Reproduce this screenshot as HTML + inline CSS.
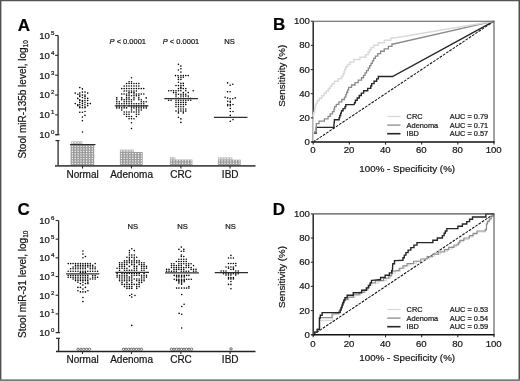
<!DOCTYPE html>
<html><head><meta charset="utf-8"><title>Figure</title>
<style>html,body{margin:0;padding:0;background:#fff;}body{width:520px;height:381px;overflow:hidden;font-family:"Liberation Sans", sans-serif;}svg{display:block;will-change:transform;}</style>
</head><body>
<svg width="520" height="381" viewBox="0 0 520 381" font-family='"Liberation Sans", sans-serif'>
<defs><style>text{stroke:#1a1a1a;stroke-width:0.22px;}</style>
</defs>
<rect width="520" height="381" fill="#fff"/>
<text x="17.80" y="30.60" font-size="17" text-anchor="start" font-weight="bold" font-style="normal" fill="#000" >A</text>
<line x1="58.10" y1="35.50" x2="58.10" y2="134.70" stroke="#2a2a2a" stroke-width="1.3" />
<line x1="55.10" y1="35.50" x2="58.10" y2="35.50" stroke="#2a2a2a" stroke-width="1.1" />
<text x="49.9" y="38.85" font-size="9.6" text-anchor="end" fill="#111">10</text>
<text x="51.1" y="34.90" font-size="6.1" fill="#111">5</text>
<line x1="55.10" y1="55.34" x2="58.10" y2="55.34" stroke="#2a2a2a" stroke-width="1.1" />
<text x="49.9" y="58.69" font-size="9.6" text-anchor="end" fill="#111">10</text>
<text x="51.1" y="54.74" font-size="6.1" fill="#111">4</text>
<line x1="55.10" y1="75.18" x2="58.10" y2="75.18" stroke="#2a2a2a" stroke-width="1.1" />
<text x="49.9" y="78.53" font-size="9.6" text-anchor="end" fill="#111">10</text>
<text x="51.1" y="74.58" font-size="6.1" fill="#111">3</text>
<line x1="55.10" y1="95.02" x2="58.10" y2="95.02" stroke="#2a2a2a" stroke-width="1.1" />
<text x="49.9" y="98.37" font-size="9.6" text-anchor="end" fill="#111">10</text>
<text x="51.1" y="94.42" font-size="6.1" fill="#111">2</text>
<line x1="55.10" y1="114.86" x2="58.10" y2="114.86" stroke="#2a2a2a" stroke-width="1.1" />
<text x="49.9" y="118.21" font-size="9.6" text-anchor="end" fill="#111">10</text>
<text x="51.1" y="114.26" font-size="6.1" fill="#111">1</text>
<line x1="55.10" y1="134.70" x2="58.10" y2="134.70" stroke="#2a2a2a" stroke-width="1.1" />
<text x="49.9" y="138.05" font-size="9.6" text-anchor="end" fill="#111">10</text>
<text x="51.1" y="134.10" font-size="6.1" fill="#111">0</text>
<line x1="55.50" y1="134.70" x2="59.50" y2="134.70" stroke="#2a2a2a" stroke-width="1.2" />
<line x1="55.50" y1="140.60" x2="59.50" y2="140.60" stroke="#2a2a2a" stroke-width="1.2" />
<line x1="58.10" y1="140.60" x2="58.10" y2="165.90" stroke="#2a2a2a" stroke-width="1.3" />
<line x1="55.00" y1="165.90" x2="255.50" y2="165.90" stroke="#4a4a4a" stroke-width="1.6" />
<line x1="82.50" y1="165.90" x2="82.50" y2="168.50" stroke="#2a2a2a" stroke-width="1.1" />
<text x="82.60" y="177.90" font-size="10" text-anchor="middle" font-weight="normal" font-style="normal" fill="#151515" >Normal</text>
<line x1="131.50" y1="165.90" x2="131.50" y2="168.50" stroke="#2a2a2a" stroke-width="1.1" />
<text x="131.60" y="177.90" font-size="10" text-anchor="middle" font-weight="normal" font-style="normal" fill="#151515" >Adenoma</text>
<line x1="180.90" y1="165.90" x2="180.90" y2="168.50" stroke="#2a2a2a" stroke-width="1.1" />
<text x="181.00" y="177.90" font-size="10" text-anchor="middle" font-weight="normal" font-style="normal" fill="#151515" >CRC</text>
<line x1="230.10" y1="165.90" x2="230.10" y2="168.50" stroke="#2a2a2a" stroke-width="1.1" />
<text x="230.20" y="177.90" font-size="10" text-anchor="middle" font-weight="normal" font-style="normal" fill="#151515" >IBD</text>
<text transform="translate(25.6,158.6) rotate(-90)" font-size="10" fill="#151515">Stool miR-135b level, log<tspan font-size="6.6" dy="2">10</tspan></text>
<text x="127.80" y="43.80" font-size="7.5" text-anchor="middle" font-weight="normal" font-style="normal" fill="#1a1a1a" ><tspan font-style="italic">P</tspan> &lt; 0.0001</text>
<text x="181.00" y="43.80" font-size="7.5" text-anchor="middle" font-weight="normal" font-style="normal" fill="#1a1a1a" ><tspan font-style="italic">P</tspan> &lt; 0.0001</text>
<text x="229.60" y="44.30" font-size="7.6" text-anchor="middle" font-weight="normal" font-style="normal" fill="#1a1a1a" >NS</text>
<text x="17.50" y="214.60" font-size="17" text-anchor="start" font-weight="bold" font-style="normal" fill="#000" >C</text>
<line x1="58.60" y1="220.50" x2="58.60" y2="332.58" stroke="#2a2a2a" stroke-width="1.3" />
<line x1="55.60" y1="220.50" x2="58.60" y2="220.50" stroke="#2a2a2a" stroke-width="1.1" />
<text x="49.9" y="223.85" font-size="9.6" text-anchor="end" fill="#111">10</text>
<text x="51.1" y="219.90" font-size="6.1" fill="#111">6</text>
<line x1="55.60" y1="239.18" x2="58.60" y2="239.18" stroke="#2a2a2a" stroke-width="1.1" />
<text x="49.9" y="242.53" font-size="9.6" text-anchor="end" fill="#111">10</text>
<text x="51.1" y="238.58" font-size="6.1" fill="#111">5</text>
<line x1="55.60" y1="257.86" x2="58.60" y2="257.86" stroke="#2a2a2a" stroke-width="1.1" />
<text x="49.9" y="261.21" font-size="9.6" text-anchor="end" fill="#111">10</text>
<text x="51.1" y="257.26" font-size="6.1" fill="#111">4</text>
<line x1="55.60" y1="276.54" x2="58.60" y2="276.54" stroke="#2a2a2a" stroke-width="1.1" />
<text x="49.9" y="279.89" font-size="9.6" text-anchor="end" fill="#111">10</text>
<text x="51.1" y="275.94" font-size="6.1" fill="#111">3</text>
<line x1="55.60" y1="295.22" x2="58.60" y2="295.22" stroke="#2a2a2a" stroke-width="1.1" />
<text x="49.9" y="298.57" font-size="9.6" text-anchor="end" fill="#111">10</text>
<text x="51.1" y="294.62" font-size="6.1" fill="#111">2</text>
<line x1="55.60" y1="313.90" x2="58.60" y2="313.90" stroke="#2a2a2a" stroke-width="1.1" />
<text x="49.9" y="317.25" font-size="9.6" text-anchor="end" fill="#111">10</text>
<text x="51.1" y="313.30" font-size="6.1" fill="#111">1</text>
<line x1="55.60" y1="332.58" x2="58.60" y2="332.58" stroke="#2a2a2a" stroke-width="1.1" />
<text x="49.9" y="335.93" font-size="9.6" text-anchor="end" fill="#111">10</text>
<text x="51.1" y="331.98" font-size="6.1" fill="#111">0</text>
<line x1="56.00" y1="332.58" x2="60.00" y2="332.58" stroke="#2a2a2a" stroke-width="1.2" />
<line x1="56.00" y1="338.30" x2="60.00" y2="338.30" stroke="#2a2a2a" stroke-width="1.2" />
<line x1="58.60" y1="338.30" x2="58.60" y2="351.50" stroke="#2a2a2a" stroke-width="1.3" />
<line x1="56.00" y1="351.50" x2="255.50" y2="351.50" stroke="#222" stroke-width="1.3" />
<line x1="82.50" y1="351.50" x2="82.50" y2="354.10" stroke="#2a2a2a" stroke-width="1.1" />
<text x="82.60" y="363.40" font-size="10" text-anchor="middle" font-weight="normal" font-style="normal" fill="#151515" >Normal</text>
<line x1="131.50" y1="351.50" x2="131.50" y2="354.10" stroke="#2a2a2a" stroke-width="1.1" />
<text x="131.60" y="363.40" font-size="10" text-anchor="middle" font-weight="normal" font-style="normal" fill="#151515" >Adenoma</text>
<line x1="180.90" y1="351.50" x2="180.90" y2="354.10" stroke="#2a2a2a" stroke-width="1.1" />
<text x="181.00" y="363.40" font-size="10" text-anchor="middle" font-weight="normal" font-style="normal" fill="#151515" >CRC</text>
<line x1="230.10" y1="351.50" x2="230.10" y2="354.10" stroke="#2a2a2a" stroke-width="1.1" />
<text x="230.20" y="363.40" font-size="10" text-anchor="middle" font-weight="normal" font-style="normal" fill="#151515" >IBD</text>
<text transform="translate(25.6,337.9) rotate(-90)" font-size="10" fill="#151515">Stool miR-31 level, log<tspan font-size="6.6" dy="2">10</tspan></text>
<text x="132.90" y="229.40" font-size="7.6" text-anchor="middle" font-weight="normal" font-style="normal" fill="#1a1a1a" >NS</text>
<text x="182.50" y="229.40" font-size="7.6" text-anchor="middle" font-weight="normal" font-style="normal" fill="#1a1a1a" >NS</text>
<text x="230.50" y="229.40" font-size="7.6" text-anchor="middle" font-weight="normal" font-style="normal" fill="#1a1a1a" >NS</text>
<circle cx="79.80" cy="87.60" r="0.78" fill="#000"/>
<circle cx="82.40" cy="88.90" r="0.78" fill="#000"/>
<circle cx="82.40" cy="92.10" r="0.78" fill="#000"/>
<circle cx="85.00" cy="92.10" r="0.78" fill="#000"/>
<circle cx="75.20" cy="93.10" r="0.78" fill="#000"/>
<circle cx="79.80" cy="93.10" r="0.78" fill="#000"/>
<circle cx="87.70" cy="93.10" r="0.78" fill="#000"/>
<circle cx="77.80" cy="94.20" r="0.78" fill="#000"/>
<circle cx="79.80" cy="95.10" r="0.78" fill="#000"/>
<circle cx="82.40" cy="95.10" r="0.78" fill="#000"/>
<circle cx="85.00" cy="95.10" r="0.78" fill="#000"/>
<circle cx="79.80" cy="96.40" r="0.78" fill="#000"/>
<circle cx="85.00" cy="96.40" r="0.78" fill="#000"/>
<circle cx="82.40" cy="97.50" r="0.78" fill="#000"/>
<circle cx="77.80" cy="98.40" r="0.78" fill="#000"/>
<circle cx="85.00" cy="98.40" r="0.78" fill="#000"/>
<circle cx="87.70" cy="98.40" r="0.78" fill="#000"/>
<circle cx="79.80" cy="99.70" r="0.78" fill="#000"/>
<circle cx="79.80" cy="100.60" r="0.78" fill="#000"/>
<circle cx="82.40" cy="100.60" r="0.78" fill="#000"/>
<circle cx="85.00" cy="100.60" r="0.78" fill="#000"/>
<circle cx="87.70" cy="100.60" r="0.78" fill="#000"/>
<circle cx="82.40" cy="101.70" r="0.78" fill="#000"/>
<circle cx="79.80" cy="102.60" r="0.78" fill="#000"/>
<circle cx="85.00" cy="102.60" r="0.78" fill="#000"/>
<circle cx="75.20" cy="103.60" r="0.78" fill="#000"/>
<circle cx="82.40" cy="103.60" r="0.78" fill="#000"/>
<circle cx="87.70" cy="103.60" r="0.78" fill="#000"/>
<circle cx="90.30" cy="103.60" r="0.78" fill="#000"/>
<circle cx="77.80" cy="104.70" r="0.78" fill="#000"/>
<circle cx="79.80" cy="104.70" r="0.78" fill="#000"/>
<circle cx="85.00" cy="104.70" r="0.78" fill="#000"/>
<circle cx="77.80" cy="105.60" r="0.78" fill="#000"/>
<circle cx="82.40" cy="105.60" r="0.78" fill="#000"/>
<circle cx="87.70" cy="105.60" r="0.78" fill="#000"/>
<circle cx="79.80" cy="106.90" r="0.78" fill="#000"/>
<circle cx="85.00" cy="106.90" r="0.78" fill="#000"/>
<circle cx="79.80" cy="107.80" r="0.78" fill="#000"/>
<circle cx="82.40" cy="107.80" r="0.78" fill="#000"/>
<circle cx="85.00" cy="107.80" r="0.78" fill="#000"/>
<circle cx="85.00" cy="111.50" r="0.78" fill="#000"/>
<circle cx="79.80" cy="112.20" r="0.78" fill="#000"/>
<circle cx="82.40" cy="112.20" r="0.78" fill="#000"/>
<circle cx="85.00" cy="115.40" r="0.78" fill="#000"/>
<circle cx="82.40" cy="117.00" r="0.78" fill="#000"/>
<circle cx="82.40" cy="120.70" r="0.78" fill="#000"/>
<circle cx="82.50" cy="132.00" r="0.78" fill="#000"/>
<circle cx="131.50" cy="77.80" r="0.78" fill="#000"/>
<circle cx="129.05" cy="81.80" r="0.78" fill="#000"/>
<circle cx="131.50" cy="81.80" r="0.78" fill="#000"/>
<circle cx="126.60" cy="83.50" r="0.78" fill="#000"/>
<circle cx="129.05" cy="83.50" r="0.78" fill="#000"/>
<circle cx="131.50" cy="83.50" r="0.78" fill="#000"/>
<circle cx="133.95" cy="83.50" r="0.78" fill="#000"/>
<circle cx="136.40" cy="83.50" r="0.78" fill="#000"/>
<circle cx="138.85" cy="83.50" r="0.78" fill="#000"/>
<circle cx="124.15" cy="86.00" r="0.78" fill="#000"/>
<circle cx="126.60" cy="86.00" r="0.78" fill="#000"/>
<circle cx="129.05" cy="86.00" r="0.78" fill="#000"/>
<circle cx="131.50" cy="86.00" r="0.78" fill="#000"/>
<circle cx="133.95" cy="86.00" r="0.78" fill="#000"/>
<circle cx="136.40" cy="86.00" r="0.78" fill="#000"/>
<circle cx="138.85" cy="86.00" r="0.78" fill="#000"/>
<circle cx="121.70" cy="88.60" r="0.78" fill="#000"/>
<circle cx="124.15" cy="88.60" r="0.78" fill="#000"/>
<circle cx="126.60" cy="88.60" r="0.78" fill="#000"/>
<circle cx="129.05" cy="88.60" r="0.78" fill="#000"/>
<circle cx="131.50" cy="88.60" r="0.78" fill="#000"/>
<circle cx="133.95" cy="88.60" r="0.78" fill="#000"/>
<circle cx="136.40" cy="88.60" r="0.78" fill="#000"/>
<circle cx="138.85" cy="88.60" r="0.78" fill="#000"/>
<circle cx="141.30" cy="88.60" r="0.78" fill="#000"/>
<circle cx="143.75" cy="88.60" r="0.78" fill="#000"/>
<circle cx="124.15" cy="91.00" r="0.78" fill="#000"/>
<circle cx="126.60" cy="91.00" r="0.78" fill="#000"/>
<circle cx="129.05" cy="91.00" r="0.78" fill="#000"/>
<circle cx="131.50" cy="91.00" r="0.78" fill="#000"/>
<circle cx="133.95" cy="91.00" r="0.78" fill="#000"/>
<circle cx="136.40" cy="91.00" r="0.78" fill="#000"/>
<circle cx="129.05" cy="92.60" r="0.78" fill="#000"/>
<circle cx="131.50" cy="92.60" r="0.78" fill="#000"/>
<circle cx="133.95" cy="92.60" r="0.78" fill="#000"/>
<circle cx="121.70" cy="94.00" r="0.78" fill="#000"/>
<circle cx="124.10" cy="94.00" r="0.78" fill="#000"/>
<circle cx="126.60" cy="94.00" r="0.78" fill="#000"/>
<circle cx="129.05" cy="94.00" r="0.78" fill="#000"/>
<circle cx="134.00" cy="94.00" r="0.78" fill="#000"/>
<circle cx="136.40" cy="94.00" r="0.78" fill="#000"/>
<circle cx="138.90" cy="94.00" r="0.78" fill="#000"/>
<circle cx="141.30" cy="94.00" r="0.78" fill="#000"/>
<circle cx="143.80" cy="94.00" r="0.78" fill="#000"/>
<circle cx="126.60" cy="95.80" r="0.78" fill="#000"/>
<circle cx="129.05" cy="95.80" r="0.78" fill="#000"/>
<circle cx="131.50" cy="95.80" r="0.78" fill="#000"/>
<circle cx="133.95" cy="95.80" r="0.78" fill="#000"/>
<circle cx="136.40" cy="95.80" r="0.78" fill="#000"/>
<circle cx="138.85" cy="95.80" r="0.78" fill="#000"/>
<circle cx="116.80" cy="97.90" r="0.78" fill="#000"/>
<circle cx="121.70" cy="97.90" r="0.78" fill="#000"/>
<circle cx="126.60" cy="97.90" r="0.78" fill="#000"/>
<circle cx="129.05" cy="97.90" r="0.78" fill="#000"/>
<circle cx="133.95" cy="97.90" r="0.78" fill="#000"/>
<circle cx="138.85" cy="97.90" r="0.78" fill="#000"/>
<circle cx="146.20" cy="97.90" r="0.78" fill="#000"/>
<circle cx="116.80" cy="99.80" r="0.78" fill="#000"/>
<circle cx="121.70" cy="99.80" r="0.78" fill="#000"/>
<circle cx="124.15" cy="99.80" r="0.78" fill="#000"/>
<circle cx="126.60" cy="99.80" r="0.78" fill="#000"/>
<circle cx="129.05" cy="99.80" r="0.78" fill="#000"/>
<circle cx="131.50" cy="99.80" r="0.78" fill="#000"/>
<circle cx="133.95" cy="99.80" r="0.78" fill="#000"/>
<circle cx="138.85" cy="99.80" r="0.78" fill="#000"/>
<circle cx="141.30" cy="99.80" r="0.78" fill="#000"/>
<circle cx="116.80" cy="101.80" r="0.78" fill="#000"/>
<circle cx="119.25" cy="101.80" r="0.78" fill="#000"/>
<circle cx="124.15" cy="101.80" r="0.78" fill="#000"/>
<circle cx="126.60" cy="101.80" r="0.78" fill="#000"/>
<circle cx="129.05" cy="101.80" r="0.78" fill="#000"/>
<circle cx="131.50" cy="101.80" r="0.78" fill="#000"/>
<circle cx="141.30" cy="101.80" r="0.78" fill="#000"/>
<circle cx="143.75" cy="101.80" r="0.78" fill="#000"/>
<circle cx="146.20" cy="101.80" r="0.78" fill="#000"/>
<circle cx="116.80" cy="103.80" r="0.78" fill="#000"/>
<circle cx="119.25" cy="103.80" r="0.78" fill="#000"/>
<circle cx="121.70" cy="103.80" r="0.78" fill="#000"/>
<circle cx="124.15" cy="103.80" r="0.78" fill="#000"/>
<circle cx="126.60" cy="103.80" r="0.78" fill="#000"/>
<circle cx="129.05" cy="103.80" r="0.78" fill="#000"/>
<circle cx="131.50" cy="103.80" r="0.78" fill="#000"/>
<circle cx="133.95" cy="103.80" r="0.78" fill="#000"/>
<circle cx="136.40" cy="103.80" r="0.78" fill="#000"/>
<circle cx="138.85" cy="103.80" r="0.78" fill="#000"/>
<circle cx="141.30" cy="103.80" r="0.78" fill="#000"/>
<circle cx="143.75" cy="103.80" r="0.78" fill="#000"/>
<circle cx="116.80" cy="105.90" r="0.78" fill="#000"/>
<circle cx="119.25" cy="105.90" r="0.78" fill="#000"/>
<circle cx="124.15" cy="105.90" r="0.78" fill="#000"/>
<circle cx="129.05" cy="105.90" r="0.78" fill="#000"/>
<circle cx="131.50" cy="105.90" r="0.78" fill="#000"/>
<circle cx="133.95" cy="105.90" r="0.78" fill="#000"/>
<circle cx="136.40" cy="105.90" r="0.78" fill="#000"/>
<circle cx="138.85" cy="105.90" r="0.78" fill="#000"/>
<circle cx="141.30" cy="105.90" r="0.78" fill="#000"/>
<circle cx="143.75" cy="105.90" r="0.78" fill="#000"/>
<circle cx="146.20" cy="105.90" r="0.78" fill="#000"/>
<circle cx="116.80" cy="107.90" r="0.78" fill="#000"/>
<circle cx="119.25" cy="107.90" r="0.78" fill="#000"/>
<circle cx="121.70" cy="107.90" r="0.78" fill="#000"/>
<circle cx="124.15" cy="107.90" r="0.78" fill="#000"/>
<circle cx="126.60" cy="107.90" r="0.78" fill="#000"/>
<circle cx="131.50" cy="107.90" r="0.78" fill="#000"/>
<circle cx="133.95" cy="107.90" r="0.78" fill="#000"/>
<circle cx="136.40" cy="107.90" r="0.78" fill="#000"/>
<circle cx="138.85" cy="107.90" r="0.78" fill="#000"/>
<circle cx="141.30" cy="107.90" r="0.78" fill="#000"/>
<circle cx="143.75" cy="107.90" r="0.78" fill="#000"/>
<circle cx="146.20" cy="107.90" r="0.78" fill="#000"/>
<circle cx="121.70" cy="110.00" r="0.78" fill="#000"/>
<circle cx="131.50" cy="110.00" r="0.78" fill="#000"/>
<circle cx="136.40" cy="110.00" r="0.78" fill="#000"/>
<circle cx="138.85" cy="110.00" r="0.78" fill="#000"/>
<circle cx="141.30" cy="110.00" r="0.78" fill="#000"/>
<circle cx="124.15" cy="112.00" r="0.78" fill="#000"/>
<circle cx="126.60" cy="112.00" r="0.78" fill="#000"/>
<circle cx="129.05" cy="112.00" r="0.78" fill="#000"/>
<circle cx="131.50" cy="112.00" r="0.78" fill="#000"/>
<circle cx="133.95" cy="112.00" r="0.78" fill="#000"/>
<circle cx="136.40" cy="112.00" r="0.78" fill="#000"/>
<circle cx="138.85" cy="112.00" r="0.78" fill="#000"/>
<circle cx="124.15" cy="114.20" r="0.78" fill="#000"/>
<circle cx="126.60" cy="114.20" r="0.78" fill="#000"/>
<circle cx="129.05" cy="114.20" r="0.78" fill="#000"/>
<circle cx="136.40" cy="114.20" r="0.78" fill="#000"/>
<circle cx="138.85" cy="114.20" r="0.78" fill="#000"/>
<circle cx="126.60" cy="116.50" r="0.78" fill="#000"/>
<circle cx="129.05" cy="116.50" r="0.78" fill="#000"/>
<circle cx="131.50" cy="116.50" r="0.78" fill="#000"/>
<circle cx="136.40" cy="116.50" r="0.78" fill="#000"/>
<circle cx="129.05" cy="118.80" r="0.78" fill="#000"/>
<circle cx="131.50" cy="118.80" r="0.78" fill="#000"/>
<circle cx="133.95" cy="118.80" r="0.78" fill="#000"/>
<circle cx="131.50" cy="122.70" r="0.78" fill="#000"/>
<circle cx="131.50" cy="128.50" r="0.78" fill="#000"/>
<circle cx="178.40" cy="64.30" r="0.78" fill="#000"/>
<circle cx="180.90" cy="66.10" r="0.78" fill="#000"/>
<circle cx="180.90" cy="68.70" r="0.78" fill="#000"/>
<circle cx="178.40" cy="70.00" r="0.78" fill="#000"/>
<circle cx="180.90" cy="72.10" r="0.78" fill="#000"/>
<circle cx="175.50" cy="75.60" r="0.78" fill="#000"/>
<circle cx="178.00" cy="75.60" r="0.78" fill="#000"/>
<circle cx="180.90" cy="75.60" r="0.78" fill="#000"/>
<circle cx="183.30" cy="75.60" r="0.78" fill="#000"/>
<circle cx="185.80" cy="75.60" r="0.78" fill="#000"/>
<circle cx="188.20" cy="75.60" r="0.78" fill="#000"/>
<circle cx="178.40" cy="77.30" r="0.78" fill="#000"/>
<circle cx="180.90" cy="77.30" r="0.78" fill="#000"/>
<circle cx="183.30" cy="77.30" r="0.78" fill="#000"/>
<circle cx="178.40" cy="79.40" r="0.78" fill="#000"/>
<circle cx="180.90" cy="79.40" r="0.78" fill="#000"/>
<circle cx="178.40" cy="82.20" r="0.78" fill="#000"/>
<circle cx="180.90" cy="83.40" r="0.78" fill="#000"/>
<circle cx="183.30" cy="83.40" r="0.78" fill="#000"/>
<circle cx="176.00" cy="85.60" r="0.78" fill="#000"/>
<circle cx="178.45" cy="85.60" r="0.78" fill="#000"/>
<circle cx="180.90" cy="85.60" r="0.78" fill="#000"/>
<circle cx="183.35" cy="85.60" r="0.78" fill="#000"/>
<circle cx="180.90" cy="87.40" r="0.78" fill="#000"/>
<circle cx="178.40" cy="88.60" r="0.78" fill="#000"/>
<circle cx="180.90" cy="88.60" r="0.78" fill="#000"/>
<circle cx="183.30" cy="88.60" r="0.78" fill="#000"/>
<circle cx="185.80" cy="88.60" r="0.78" fill="#000"/>
<circle cx="168.65" cy="90.80" r="0.78" fill="#000"/>
<circle cx="171.10" cy="90.80" r="0.78" fill="#000"/>
<circle cx="173.55" cy="90.80" r="0.78" fill="#000"/>
<circle cx="176.00" cy="90.80" r="0.78" fill="#000"/>
<circle cx="178.45" cy="90.80" r="0.78" fill="#000"/>
<circle cx="180.90" cy="90.80" r="0.78" fill="#000"/>
<circle cx="185.80" cy="90.80" r="0.78" fill="#000"/>
<circle cx="193.15" cy="90.80" r="0.78" fill="#000"/>
<circle cx="173.55" cy="92.60" r="0.78" fill="#000"/>
<circle cx="176.00" cy="92.60" r="0.78" fill="#000"/>
<circle cx="183.35" cy="92.60" r="0.78" fill="#000"/>
<circle cx="188.25" cy="92.60" r="0.78" fill="#000"/>
<circle cx="176.00" cy="94.30" r="0.78" fill="#000"/>
<circle cx="178.45" cy="94.30" r="0.78" fill="#000"/>
<circle cx="180.90" cy="94.30" r="0.78" fill="#000"/>
<circle cx="183.35" cy="94.30" r="0.78" fill="#000"/>
<circle cx="185.80" cy="94.30" r="0.78" fill="#000"/>
<circle cx="176.00" cy="96.10" r="0.78" fill="#000"/>
<circle cx="180.90" cy="96.10" r="0.78" fill="#000"/>
<circle cx="183.35" cy="96.10" r="0.78" fill="#000"/>
<circle cx="185.80" cy="96.10" r="0.78" fill="#000"/>
<circle cx="188.25" cy="96.10" r="0.78" fill="#000"/>
<circle cx="176.00" cy="98.20" r="0.78" fill="#000"/>
<circle cx="178.45" cy="98.20" r="0.78" fill="#000"/>
<circle cx="180.90" cy="98.20" r="0.78" fill="#000"/>
<circle cx="183.35" cy="98.20" r="0.78" fill="#000"/>
<circle cx="188.25" cy="98.20" r="0.78" fill="#000"/>
<circle cx="190.70" cy="98.20" r="0.78" fill="#000"/>
<circle cx="168.65" cy="100.20" r="0.78" fill="#000"/>
<circle cx="171.10" cy="100.20" r="0.78" fill="#000"/>
<circle cx="176.00" cy="100.20" r="0.78" fill="#000"/>
<circle cx="178.45" cy="100.20" r="0.78" fill="#000"/>
<circle cx="180.90" cy="100.20" r="0.78" fill="#000"/>
<circle cx="183.35" cy="100.20" r="0.78" fill="#000"/>
<circle cx="185.80" cy="100.20" r="0.78" fill="#000"/>
<circle cx="188.25" cy="100.20" r="0.78" fill="#000"/>
<circle cx="190.70" cy="100.20" r="0.78" fill="#000"/>
<circle cx="176.00" cy="102.40" r="0.78" fill="#000"/>
<circle cx="178.45" cy="102.40" r="0.78" fill="#000"/>
<circle cx="180.90" cy="102.40" r="0.78" fill="#000"/>
<circle cx="183.35" cy="102.40" r="0.78" fill="#000"/>
<circle cx="185.80" cy="102.40" r="0.78" fill="#000"/>
<circle cx="176.00" cy="104.60" r="0.78" fill="#000"/>
<circle cx="178.45" cy="104.60" r="0.78" fill="#000"/>
<circle cx="180.90" cy="104.60" r="0.78" fill="#000"/>
<circle cx="183.35" cy="104.60" r="0.78" fill="#000"/>
<circle cx="185.80" cy="104.60" r="0.78" fill="#000"/>
<circle cx="176.00" cy="106.80" r="0.78" fill="#000"/>
<circle cx="178.45" cy="106.80" r="0.78" fill="#000"/>
<circle cx="180.90" cy="106.80" r="0.78" fill="#000"/>
<circle cx="183.35" cy="106.80" r="0.78" fill="#000"/>
<circle cx="178.45" cy="109.00" r="0.78" fill="#000"/>
<circle cx="180.90" cy="109.00" r="0.78" fill="#000"/>
<circle cx="183.35" cy="109.00" r="0.78" fill="#000"/>
<circle cx="185.80" cy="109.00" r="0.78" fill="#000"/>
<circle cx="176.00" cy="111.10" r="0.78" fill="#000"/>
<circle cx="178.45" cy="111.10" r="0.78" fill="#000"/>
<circle cx="180.90" cy="111.10" r="0.78" fill="#000"/>
<circle cx="183.35" cy="111.10" r="0.78" fill="#000"/>
<circle cx="185.80" cy="111.10" r="0.78" fill="#000"/>
<circle cx="178.40" cy="112.90" r="0.78" fill="#000"/>
<circle cx="183.30" cy="112.90" r="0.78" fill="#000"/>
<circle cx="178.40" cy="117.20" r="0.78" fill="#000"/>
<circle cx="180.90" cy="118.90" r="0.78" fill="#000"/>
<circle cx="180.90" cy="122.40" r="0.78" fill="#000"/>
<circle cx="227.60" cy="82.90" r="0.78" fill="#000"/>
<circle cx="232.80" cy="84.20" r="0.78" fill="#000"/>
<circle cx="230.10" cy="85.30" r="0.78" fill="#000"/>
<circle cx="227.60" cy="91.80" r="0.78" fill="#000"/>
<circle cx="230.10" cy="91.80" r="0.78" fill="#000"/>
<circle cx="225.10" cy="97.30" r="0.78" fill="#000"/>
<circle cx="235.20" cy="97.90" r="0.78" fill="#000"/>
<circle cx="227.60" cy="98.10" r="0.78" fill="#000"/>
<circle cx="230.10" cy="98.80" r="0.78" fill="#000"/>
<circle cx="232.80" cy="98.80" r="0.78" fill="#000"/>
<circle cx="227.70" cy="101.20" r="0.78" fill="#000"/>
<circle cx="230.30" cy="101.20" r="0.78" fill="#000"/>
<circle cx="230.30" cy="102.30" r="0.78" fill="#000"/>
<circle cx="227.70" cy="104.50" r="0.78" fill="#000"/>
<circle cx="230.30" cy="104.50" r="0.78" fill="#000"/>
<circle cx="233.00" cy="104.50" r="0.78" fill="#000"/>
<circle cx="227.70" cy="105.80" r="0.78" fill="#000"/>
<circle cx="230.30" cy="105.80" r="0.78" fill="#000"/>
<circle cx="230.30" cy="108.50" r="0.78" fill="#000"/>
<circle cx="230.30" cy="111.50" r="0.78" fill="#000"/>
<circle cx="233.00" cy="111.50" r="0.78" fill="#000"/>
<circle cx="230.30" cy="115.40" r="0.78" fill="#000"/>
<circle cx="233.00" cy="119.60" r="0.78" fill="#000"/>
<circle cx="230.30" cy="121.20" r="0.78" fill="#000"/>
<circle cx="82.90" cy="251.00" r="0.78" fill="#000"/>
<circle cx="82.90" cy="254.00" r="0.78" fill="#000"/>
<circle cx="85.40" cy="256.50" r="0.78" fill="#000"/>
<circle cx="82.90" cy="257.80" r="0.78" fill="#000"/>
<circle cx="68.20" cy="263.60" r="0.78" fill="#000"/>
<circle cx="70.65" cy="263.60" r="0.78" fill="#000"/>
<circle cx="73.10" cy="263.60" r="0.78" fill="#000"/>
<circle cx="75.55" cy="263.60" r="0.78" fill="#000"/>
<circle cx="78.00" cy="263.60" r="0.78" fill="#000"/>
<circle cx="80.45" cy="263.60" r="0.78" fill="#000"/>
<circle cx="82.90" cy="263.60" r="0.78" fill="#000"/>
<circle cx="85.35" cy="263.60" r="0.78" fill="#000"/>
<circle cx="87.80" cy="263.60" r="0.78" fill="#000"/>
<circle cx="90.25" cy="263.60" r="0.78" fill="#000"/>
<circle cx="95.15" cy="263.60" r="0.78" fill="#000"/>
<circle cx="75.55" cy="265.40" r="0.78" fill="#000"/>
<circle cx="78.00" cy="265.40" r="0.78" fill="#000"/>
<circle cx="80.45" cy="265.40" r="0.78" fill="#000"/>
<circle cx="82.90" cy="265.40" r="0.78" fill="#000"/>
<circle cx="85.35" cy="265.40" r="0.78" fill="#000"/>
<circle cx="87.80" cy="265.40" r="0.78" fill="#000"/>
<circle cx="90.25" cy="265.40" r="0.78" fill="#000"/>
<circle cx="92.70" cy="265.40" r="0.78" fill="#000"/>
<circle cx="73.10" cy="267.00" r="0.78" fill="#000"/>
<circle cx="75.55" cy="267.00" r="0.78" fill="#000"/>
<circle cx="78.00" cy="267.00" r="0.78" fill="#000"/>
<circle cx="80.45" cy="267.00" r="0.78" fill="#000"/>
<circle cx="82.90" cy="267.00" r="0.78" fill="#000"/>
<circle cx="85.35" cy="267.00" r="0.78" fill="#000"/>
<circle cx="87.80" cy="267.00" r="0.78" fill="#000"/>
<circle cx="90.25" cy="267.00" r="0.78" fill="#000"/>
<circle cx="92.70" cy="267.00" r="0.78" fill="#000"/>
<circle cx="95.15" cy="267.00" r="0.78" fill="#000"/>
<circle cx="70.65" cy="268.80" r="0.78" fill="#000"/>
<circle cx="73.10" cy="268.80" r="0.78" fill="#000"/>
<circle cx="75.55" cy="268.80" r="0.78" fill="#000"/>
<circle cx="78.00" cy="268.80" r="0.78" fill="#000"/>
<circle cx="80.45" cy="268.80" r="0.78" fill="#000"/>
<circle cx="82.90" cy="268.80" r="0.78" fill="#000"/>
<circle cx="85.35" cy="268.80" r="0.78" fill="#000"/>
<circle cx="90.25" cy="268.80" r="0.78" fill="#000"/>
<circle cx="92.70" cy="268.80" r="0.78" fill="#000"/>
<circle cx="95.15" cy="268.80" r="0.78" fill="#000"/>
<circle cx="68.20" cy="271.20" r="0.78" fill="#000"/>
<circle cx="70.65" cy="271.20" r="0.78" fill="#000"/>
<circle cx="73.10" cy="271.20" r="0.78" fill="#000"/>
<circle cx="75.55" cy="271.20" r="0.78" fill="#000"/>
<circle cx="78.00" cy="271.20" r="0.78" fill="#000"/>
<circle cx="80.45" cy="271.20" r="0.78" fill="#000"/>
<circle cx="82.90" cy="271.20" r="0.78" fill="#000"/>
<circle cx="85.35" cy="271.20" r="0.78" fill="#000"/>
<circle cx="87.80" cy="271.20" r="0.78" fill="#000"/>
<circle cx="90.25" cy="271.20" r="0.78" fill="#000"/>
<circle cx="92.70" cy="271.20" r="0.78" fill="#000"/>
<circle cx="95.15" cy="271.20" r="0.78" fill="#000"/>
<circle cx="97.60" cy="271.20" r="0.78" fill="#000"/>
<circle cx="80.40" cy="272.60" r="0.78" fill="#000"/>
<circle cx="82.90" cy="272.60" r="0.78" fill="#000"/>
<circle cx="85.40" cy="272.60" r="0.78" fill="#000"/>
<circle cx="68.20" cy="275.50" r="0.78" fill="#000"/>
<circle cx="70.65" cy="275.50" r="0.78" fill="#000"/>
<circle cx="73.10" cy="275.50" r="0.78" fill="#000"/>
<circle cx="75.55" cy="275.50" r="0.78" fill="#000"/>
<circle cx="78.00" cy="275.50" r="0.78" fill="#000"/>
<circle cx="80.45" cy="275.50" r="0.78" fill="#000"/>
<circle cx="82.90" cy="275.50" r="0.78" fill="#000"/>
<circle cx="85.35" cy="275.50" r="0.78" fill="#000"/>
<circle cx="87.80" cy="275.50" r="0.78" fill="#000"/>
<circle cx="92.70" cy="275.50" r="0.78" fill="#000"/>
<circle cx="95.15" cy="275.50" r="0.78" fill="#000"/>
<circle cx="68.20" cy="277.20" r="0.78" fill="#000"/>
<circle cx="70.65" cy="277.20" r="0.78" fill="#000"/>
<circle cx="73.10" cy="277.20" r="0.78" fill="#000"/>
<circle cx="75.55" cy="277.20" r="0.78" fill="#000"/>
<circle cx="78.00" cy="277.20" r="0.78" fill="#000"/>
<circle cx="80.45" cy="277.20" r="0.78" fill="#000"/>
<circle cx="82.90" cy="277.20" r="0.78" fill="#000"/>
<circle cx="85.35" cy="277.20" r="0.78" fill="#000"/>
<circle cx="87.80" cy="277.20" r="0.78" fill="#000"/>
<circle cx="92.70" cy="277.20" r="0.78" fill="#000"/>
<circle cx="95.15" cy="277.20" r="0.78" fill="#000"/>
<circle cx="97.60" cy="277.20" r="0.78" fill="#000"/>
<circle cx="73.10" cy="279.00" r="0.78" fill="#000"/>
<circle cx="75.55" cy="279.00" r="0.78" fill="#000"/>
<circle cx="78.00" cy="279.00" r="0.78" fill="#000"/>
<circle cx="80.45" cy="279.00" r="0.78" fill="#000"/>
<circle cx="82.90" cy="279.00" r="0.78" fill="#000"/>
<circle cx="85.35" cy="279.00" r="0.78" fill="#000"/>
<circle cx="87.80" cy="279.00" r="0.78" fill="#000"/>
<circle cx="90.25" cy="279.00" r="0.78" fill="#000"/>
<circle cx="92.70" cy="279.00" r="0.78" fill="#000"/>
<circle cx="95.15" cy="279.00" r="0.78" fill="#000"/>
<circle cx="75.55" cy="280.60" r="0.78" fill="#000"/>
<circle cx="78.00" cy="280.60" r="0.78" fill="#000"/>
<circle cx="80.45" cy="280.60" r="0.78" fill="#000"/>
<circle cx="82.90" cy="280.60" r="0.78" fill="#000"/>
<circle cx="85.35" cy="280.60" r="0.78" fill="#000"/>
<circle cx="87.80" cy="280.60" r="0.78" fill="#000"/>
<circle cx="77.90" cy="282.20" r="0.78" fill="#000"/>
<circle cx="82.90" cy="282.20" r="0.78" fill="#000"/>
<circle cx="87.90" cy="282.20" r="0.78" fill="#000"/>
<circle cx="80.40" cy="283.60" r="0.78" fill="#000"/>
<circle cx="85.40" cy="283.60" r="0.78" fill="#000"/>
<circle cx="87.90" cy="283.60" r="0.78" fill="#000"/>
<circle cx="82.90" cy="285.00" r="0.78" fill="#000"/>
<circle cx="77.90" cy="287.40" r="0.78" fill="#000"/>
<circle cx="80.40" cy="287.40" r="0.78" fill="#000"/>
<circle cx="85.40" cy="287.40" r="0.78" fill="#000"/>
<circle cx="82.90" cy="289.10" r="0.78" fill="#000"/>
<circle cx="77.90" cy="290.70" r="0.78" fill="#000"/>
<circle cx="87.90" cy="290.70" r="0.78" fill="#000"/>
<circle cx="80.40" cy="291.90" r="0.78" fill="#000"/>
<circle cx="82.90" cy="291.90" r="0.78" fill="#000"/>
<circle cx="85.40" cy="291.90" r="0.78" fill="#000"/>
<circle cx="82.90" cy="297.50" r="0.78" fill="#000"/>
<circle cx="82.90" cy="301.60" r="0.78" fill="#000"/>
<circle cx="131.80" cy="248.70" r="0.78" fill="#000"/>
<circle cx="129.40" cy="250.60" r="0.78" fill="#000"/>
<circle cx="134.30" cy="250.60" r="0.78" fill="#000"/>
<circle cx="129.40" cy="252.80" r="0.78" fill="#000"/>
<circle cx="129.40" cy="255.00" r="0.78" fill="#000"/>
<circle cx="131.80" cy="255.00" r="0.78" fill="#000"/>
<circle cx="134.30" cy="255.00" r="0.78" fill="#000"/>
<circle cx="126.90" cy="257.20" r="0.78" fill="#000"/>
<circle cx="129.35" cy="257.20" r="0.78" fill="#000"/>
<circle cx="131.80" cy="257.20" r="0.78" fill="#000"/>
<circle cx="134.25" cy="257.20" r="0.78" fill="#000"/>
<circle cx="136.70" cy="257.20" r="0.78" fill="#000"/>
<circle cx="129.35" cy="259.10" r="0.78" fill="#000"/>
<circle cx="134.25" cy="259.10" r="0.78" fill="#000"/>
<circle cx="124.45" cy="260.90" r="0.78" fill="#000"/>
<circle cx="126.90" cy="260.90" r="0.78" fill="#000"/>
<circle cx="129.35" cy="260.90" r="0.78" fill="#000"/>
<circle cx="131.80" cy="260.90" r="0.78" fill="#000"/>
<circle cx="134.25" cy="260.90" r="0.78" fill="#000"/>
<circle cx="136.70" cy="260.90" r="0.78" fill="#000"/>
<circle cx="139.15" cy="260.90" r="0.78" fill="#000"/>
<circle cx="119.55" cy="262.80" r="0.78" fill="#000"/>
<circle cx="122.00" cy="262.80" r="0.78" fill="#000"/>
<circle cx="124.45" cy="262.80" r="0.78" fill="#000"/>
<circle cx="126.90" cy="262.80" r="0.78" fill="#000"/>
<circle cx="129.35" cy="262.80" r="0.78" fill="#000"/>
<circle cx="131.80" cy="262.80" r="0.78" fill="#000"/>
<circle cx="134.25" cy="262.80" r="0.78" fill="#000"/>
<circle cx="136.70" cy="262.80" r="0.78" fill="#000"/>
<circle cx="139.15" cy="262.80" r="0.78" fill="#000"/>
<circle cx="141.60" cy="262.80" r="0.78" fill="#000"/>
<circle cx="144.05" cy="262.80" r="0.78" fill="#000"/>
<circle cx="119.55" cy="264.60" r="0.78" fill="#000"/>
<circle cx="122.00" cy="264.60" r="0.78" fill="#000"/>
<circle cx="124.45" cy="264.60" r="0.78" fill="#000"/>
<circle cx="126.90" cy="264.60" r="0.78" fill="#000"/>
<circle cx="131.80" cy="264.60" r="0.78" fill="#000"/>
<circle cx="134.25" cy="264.60" r="0.78" fill="#000"/>
<circle cx="139.15" cy="264.60" r="0.78" fill="#000"/>
<circle cx="141.60" cy="264.60" r="0.78" fill="#000"/>
<circle cx="144.05" cy="264.60" r="0.78" fill="#000"/>
<circle cx="119.55" cy="266.40" r="0.78" fill="#000"/>
<circle cx="122.00" cy="266.40" r="0.78" fill="#000"/>
<circle cx="124.45" cy="266.40" r="0.78" fill="#000"/>
<circle cx="129.35" cy="266.40" r="0.78" fill="#000"/>
<circle cx="134.25" cy="266.40" r="0.78" fill="#000"/>
<circle cx="136.70" cy="266.40" r="0.78" fill="#000"/>
<circle cx="141.60" cy="266.40" r="0.78" fill="#000"/>
<circle cx="144.05" cy="266.40" r="0.78" fill="#000"/>
<circle cx="146.50" cy="266.40" r="0.78" fill="#000"/>
<circle cx="117.10" cy="268.30" r="0.78" fill="#000"/>
<circle cx="119.55" cy="268.30" r="0.78" fill="#000"/>
<circle cx="122.00" cy="268.30" r="0.78" fill="#000"/>
<circle cx="124.45" cy="268.30" r="0.78" fill="#000"/>
<circle cx="126.90" cy="268.30" r="0.78" fill="#000"/>
<circle cx="134.25" cy="268.30" r="0.78" fill="#000"/>
<circle cx="136.70" cy="268.30" r="0.78" fill="#000"/>
<circle cx="141.60" cy="268.30" r="0.78" fill="#000"/>
<circle cx="144.05" cy="268.30" r="0.78" fill="#000"/>
<circle cx="146.50" cy="268.30" r="0.78" fill="#000"/>
<circle cx="119.55" cy="270.20" r="0.78" fill="#000"/>
<circle cx="124.45" cy="270.20" r="0.78" fill="#000"/>
<circle cx="126.90" cy="270.20" r="0.78" fill="#000"/>
<circle cx="129.35" cy="270.20" r="0.78" fill="#000"/>
<circle cx="131.80" cy="270.20" r="0.78" fill="#000"/>
<circle cx="134.25" cy="270.20" r="0.78" fill="#000"/>
<circle cx="136.70" cy="270.20" r="0.78" fill="#000"/>
<circle cx="141.60" cy="270.20" r="0.78" fill="#000"/>
<circle cx="144.05" cy="270.20" r="0.78" fill="#000"/>
<circle cx="117.10" cy="273.40" r="0.78" fill="#000"/>
<circle cx="122.00" cy="273.40" r="0.78" fill="#000"/>
<circle cx="124.45" cy="273.40" r="0.78" fill="#000"/>
<circle cx="126.90" cy="273.40" r="0.78" fill="#000"/>
<circle cx="129.35" cy="273.40" r="0.78" fill="#000"/>
<circle cx="131.80" cy="273.40" r="0.78" fill="#000"/>
<circle cx="134.25" cy="273.40" r="0.78" fill="#000"/>
<circle cx="136.70" cy="273.40" r="0.78" fill="#000"/>
<circle cx="139.15" cy="273.40" r="0.78" fill="#000"/>
<circle cx="144.05" cy="273.40" r="0.78" fill="#000"/>
<circle cx="117.10" cy="275.30" r="0.78" fill="#000"/>
<circle cx="119.55" cy="275.30" r="0.78" fill="#000"/>
<circle cx="122.00" cy="275.30" r="0.78" fill="#000"/>
<circle cx="124.45" cy="275.30" r="0.78" fill="#000"/>
<circle cx="126.90" cy="275.30" r="0.78" fill="#000"/>
<circle cx="131.80" cy="275.30" r="0.78" fill="#000"/>
<circle cx="134.25" cy="275.30" r="0.78" fill="#000"/>
<circle cx="136.70" cy="275.30" r="0.78" fill="#000"/>
<circle cx="139.15" cy="275.30" r="0.78" fill="#000"/>
<circle cx="141.60" cy="275.30" r="0.78" fill="#000"/>
<circle cx="144.05" cy="275.30" r="0.78" fill="#000"/>
<circle cx="146.50" cy="275.30" r="0.78" fill="#000"/>
<circle cx="117.10" cy="277.10" r="0.78" fill="#000"/>
<circle cx="119.55" cy="277.10" r="0.78" fill="#000"/>
<circle cx="122.00" cy="277.10" r="0.78" fill="#000"/>
<circle cx="124.45" cy="277.10" r="0.78" fill="#000"/>
<circle cx="126.90" cy="277.10" r="0.78" fill="#000"/>
<circle cx="129.35" cy="277.10" r="0.78" fill="#000"/>
<circle cx="131.80" cy="277.10" r="0.78" fill="#000"/>
<circle cx="141.60" cy="277.10" r="0.78" fill="#000"/>
<circle cx="144.05" cy="277.10" r="0.78" fill="#000"/>
<circle cx="146.50" cy="277.10" r="0.78" fill="#000"/>
<circle cx="119.55" cy="279.00" r="0.78" fill="#000"/>
<circle cx="122.00" cy="279.00" r="0.78" fill="#000"/>
<circle cx="124.45" cy="279.00" r="0.78" fill="#000"/>
<circle cx="126.90" cy="279.00" r="0.78" fill="#000"/>
<circle cx="129.35" cy="279.00" r="0.78" fill="#000"/>
<circle cx="131.80" cy="279.00" r="0.78" fill="#000"/>
<circle cx="134.25" cy="279.00" r="0.78" fill="#000"/>
<circle cx="136.70" cy="279.00" r="0.78" fill="#000"/>
<circle cx="139.15" cy="279.00" r="0.78" fill="#000"/>
<circle cx="141.60" cy="279.00" r="0.78" fill="#000"/>
<circle cx="144.05" cy="279.00" r="0.78" fill="#000"/>
<circle cx="119.55" cy="280.80" r="0.78" fill="#000"/>
<circle cx="122.00" cy="280.80" r="0.78" fill="#000"/>
<circle cx="124.45" cy="280.80" r="0.78" fill="#000"/>
<circle cx="126.90" cy="280.80" r="0.78" fill="#000"/>
<circle cx="129.35" cy="280.80" r="0.78" fill="#000"/>
<circle cx="131.80" cy="280.80" r="0.78" fill="#000"/>
<circle cx="136.70" cy="280.80" r="0.78" fill="#000"/>
<circle cx="139.15" cy="280.80" r="0.78" fill="#000"/>
<circle cx="141.60" cy="280.80" r="0.78" fill="#000"/>
<circle cx="144.05" cy="280.80" r="0.78" fill="#000"/>
<circle cx="122.00" cy="282.50" r="0.78" fill="#000"/>
<circle cx="126.90" cy="282.50" r="0.78" fill="#000"/>
<circle cx="131.80" cy="282.50" r="0.78" fill="#000"/>
<circle cx="139.15" cy="282.50" r="0.78" fill="#000"/>
<circle cx="141.60" cy="282.50" r="0.78" fill="#000"/>
<circle cx="122.00" cy="284.40" r="0.78" fill="#000"/>
<circle cx="124.45" cy="284.40" r="0.78" fill="#000"/>
<circle cx="126.90" cy="284.40" r="0.78" fill="#000"/>
<circle cx="129.35" cy="284.40" r="0.78" fill="#000"/>
<circle cx="131.80" cy="284.40" r="0.78" fill="#000"/>
<circle cx="134.25" cy="284.40" r="0.78" fill="#000"/>
<circle cx="136.70" cy="284.40" r="0.78" fill="#000"/>
<circle cx="139.15" cy="284.40" r="0.78" fill="#000"/>
<circle cx="124.45" cy="286.60" r="0.78" fill="#000"/>
<circle cx="126.90" cy="286.60" r="0.78" fill="#000"/>
<circle cx="129.35" cy="286.60" r="0.78" fill="#000"/>
<circle cx="131.80" cy="286.60" r="0.78" fill="#000"/>
<circle cx="136.70" cy="286.60" r="0.78" fill="#000"/>
<circle cx="139.15" cy="286.60" r="0.78" fill="#000"/>
<circle cx="126.90" cy="288.40" r="0.78" fill="#000"/>
<circle cx="129.35" cy="288.40" r="0.78" fill="#000"/>
<circle cx="131.80" cy="288.40" r="0.78" fill="#000"/>
<circle cx="136.70" cy="288.40" r="0.78" fill="#000"/>
<circle cx="131.70" cy="294.20" r="0.78" fill="#000"/>
<circle cx="129.70" cy="295.50" r="0.78" fill="#000"/>
<circle cx="135.00" cy="295.50" r="0.78" fill="#000"/>
<circle cx="131.70" cy="297.10" r="0.78" fill="#000"/>
<circle cx="131.70" cy="325.40" r="0.78" fill="#000"/>
<circle cx="181.30" cy="247.10" r="0.78" fill="#000"/>
<circle cx="178.90" cy="249.40" r="0.78" fill="#000"/>
<circle cx="183.80" cy="249.40" r="0.78" fill="#000"/>
<circle cx="181.30" cy="251.30" r="0.78" fill="#000"/>
<circle cx="183.80" cy="251.30" r="0.78" fill="#000"/>
<circle cx="181.30" cy="255.00" r="0.78" fill="#000"/>
<circle cx="181.30" cy="256.50" r="0.78" fill="#000"/>
<circle cx="183.80" cy="256.50" r="0.78" fill="#000"/>
<circle cx="178.85" cy="259.30" r="0.78" fill="#000"/>
<circle cx="181.30" cy="259.30" r="0.78" fill="#000"/>
<circle cx="183.75" cy="259.30" r="0.78" fill="#000"/>
<circle cx="186.20" cy="259.30" r="0.78" fill="#000"/>
<circle cx="176.40" cy="261.50" r="0.78" fill="#000"/>
<circle cx="178.85" cy="261.50" r="0.78" fill="#000"/>
<circle cx="181.30" cy="261.50" r="0.78" fill="#000"/>
<circle cx="183.75" cy="261.50" r="0.78" fill="#000"/>
<circle cx="186.20" cy="261.50" r="0.78" fill="#000"/>
<circle cx="171.50" cy="263.70" r="0.78" fill="#000"/>
<circle cx="173.95" cy="263.70" r="0.78" fill="#000"/>
<circle cx="178.85" cy="263.70" r="0.78" fill="#000"/>
<circle cx="181.30" cy="263.70" r="0.78" fill="#000"/>
<circle cx="183.75" cy="263.70" r="0.78" fill="#000"/>
<circle cx="186.20" cy="263.70" r="0.78" fill="#000"/>
<circle cx="188.65" cy="263.70" r="0.78" fill="#000"/>
<circle cx="191.10" cy="263.70" r="0.78" fill="#000"/>
<circle cx="171.50" cy="265.60" r="0.78" fill="#000"/>
<circle cx="173.95" cy="265.60" r="0.78" fill="#000"/>
<circle cx="176.40" cy="265.60" r="0.78" fill="#000"/>
<circle cx="178.85" cy="265.60" r="0.78" fill="#000"/>
<circle cx="181.30" cy="265.60" r="0.78" fill="#000"/>
<circle cx="186.20" cy="265.60" r="0.78" fill="#000"/>
<circle cx="188.65" cy="265.60" r="0.78" fill="#000"/>
<circle cx="193.55" cy="265.60" r="0.78" fill="#000"/>
<circle cx="171.50" cy="267.50" r="0.78" fill="#000"/>
<circle cx="173.95" cy="267.50" r="0.78" fill="#000"/>
<circle cx="176.40" cy="267.50" r="0.78" fill="#000"/>
<circle cx="178.85" cy="267.50" r="0.78" fill="#000"/>
<circle cx="181.30" cy="267.50" r="0.78" fill="#000"/>
<circle cx="183.75" cy="267.50" r="0.78" fill="#000"/>
<circle cx="186.20" cy="267.50" r="0.78" fill="#000"/>
<circle cx="188.65" cy="267.50" r="0.78" fill="#000"/>
<circle cx="191.10" cy="267.50" r="0.78" fill="#000"/>
<circle cx="166.60" cy="269.40" r="0.78" fill="#000"/>
<circle cx="169.05" cy="269.40" r="0.78" fill="#000"/>
<circle cx="173.95" cy="269.40" r="0.78" fill="#000"/>
<circle cx="176.40" cy="269.40" r="0.78" fill="#000"/>
<circle cx="178.85" cy="269.40" r="0.78" fill="#000"/>
<circle cx="181.30" cy="269.40" r="0.78" fill="#000"/>
<circle cx="183.75" cy="269.40" r="0.78" fill="#000"/>
<circle cx="191.10" cy="269.40" r="0.78" fill="#000"/>
<circle cx="193.55" cy="269.40" r="0.78" fill="#000"/>
<circle cx="196.00" cy="269.40" r="0.78" fill="#000"/>
<circle cx="166.60" cy="271.20" r="0.78" fill="#000"/>
<circle cx="169.05" cy="271.20" r="0.78" fill="#000"/>
<circle cx="171.50" cy="271.20" r="0.78" fill="#000"/>
<circle cx="173.95" cy="271.20" r="0.78" fill="#000"/>
<circle cx="176.40" cy="271.20" r="0.78" fill="#000"/>
<circle cx="181.30" cy="271.20" r="0.78" fill="#000"/>
<circle cx="183.75" cy="271.20" r="0.78" fill="#000"/>
<circle cx="186.20" cy="271.20" r="0.78" fill="#000"/>
<circle cx="188.65" cy="271.20" r="0.78" fill="#000"/>
<circle cx="193.55" cy="271.20" r="0.78" fill="#000"/>
<circle cx="196.00" cy="271.20" r="0.78" fill="#000"/>
<circle cx="174.20" cy="275.40" r="0.78" fill="#000"/>
<circle cx="176.60" cy="275.40" r="0.78" fill="#000"/>
<circle cx="178.90" cy="275.40" r="0.78" fill="#000"/>
<circle cx="181.60" cy="275.40" r="0.78" fill="#000"/>
<circle cx="184.20" cy="275.40" r="0.78" fill="#000"/>
<circle cx="186.60" cy="275.40" r="0.78" fill="#000"/>
<circle cx="188.90" cy="275.40" r="0.78" fill="#000"/>
<circle cx="176.60" cy="276.90" r="0.78" fill="#000"/>
<circle cx="178.90" cy="276.90" r="0.78" fill="#000"/>
<circle cx="181.60" cy="276.90" r="0.78" fill="#000"/>
<circle cx="184.20" cy="276.90" r="0.78" fill="#000"/>
<circle cx="174.20" cy="279.20" r="0.78" fill="#000"/>
<circle cx="176.60" cy="279.20" r="0.78" fill="#000"/>
<circle cx="178.90" cy="279.20" r="0.78" fill="#000"/>
<circle cx="181.60" cy="279.20" r="0.78" fill="#000"/>
<circle cx="184.20" cy="279.20" r="0.78" fill="#000"/>
<circle cx="186.60" cy="279.20" r="0.78" fill="#000"/>
<circle cx="188.90" cy="279.20" r="0.78" fill="#000"/>
<circle cx="191.30" cy="279.20" r="0.78" fill="#000"/>
<circle cx="176.60" cy="280.40" r="0.78" fill="#000"/>
<circle cx="178.90" cy="280.40" r="0.78" fill="#000"/>
<circle cx="181.60" cy="280.40" r="0.78" fill="#000"/>
<circle cx="184.20" cy="280.40" r="0.78" fill="#000"/>
<circle cx="178.90" cy="281.70" r="0.78" fill="#000"/>
<circle cx="181.60" cy="281.70" r="0.78" fill="#000"/>
<circle cx="184.20" cy="281.70" r="0.78" fill="#000"/>
<circle cx="178.90" cy="283.10" r="0.78" fill="#000"/>
<circle cx="181.60" cy="283.10" r="0.78" fill="#000"/>
<circle cx="181.60" cy="284.20" r="0.78" fill="#000"/>
<circle cx="188.90" cy="286.50" r="0.78" fill="#000"/>
<circle cx="176.60" cy="288.10" r="0.78" fill="#000"/>
<circle cx="178.90" cy="288.10" r="0.78" fill="#000"/>
<circle cx="181.60" cy="288.10" r="0.78" fill="#000"/>
<circle cx="184.20" cy="288.10" r="0.78" fill="#000"/>
<circle cx="186.60" cy="288.10" r="0.78" fill="#000"/>
<circle cx="188.90" cy="288.10" r="0.78" fill="#000"/>
<circle cx="181.70" cy="294.50" r="0.78" fill="#000"/>
<circle cx="184.10" cy="304.20" r="0.78" fill="#000"/>
<circle cx="181.70" cy="306.50" r="0.78" fill="#000"/>
<circle cx="179.10" cy="313.40" r="0.78" fill="#000"/>
<circle cx="181.70" cy="314.20" r="0.78" fill="#000"/>
<circle cx="181.70" cy="328.00" r="0.78" fill="#000"/>
<circle cx="230.90" cy="255.40" r="0.78" fill="#000"/>
<circle cx="228.50" cy="258.00" r="0.78" fill="#000"/>
<circle cx="230.90" cy="258.00" r="0.78" fill="#000"/>
<circle cx="233.40" cy="258.00" r="0.78" fill="#000"/>
<circle cx="228.50" cy="263.50" r="0.78" fill="#000"/>
<circle cx="230.90" cy="263.50" r="0.78" fill="#000"/>
<circle cx="233.40" cy="263.50" r="0.78" fill="#000"/>
<circle cx="235.80" cy="263.50" r="0.78" fill="#000"/>
<circle cx="235.80" cy="265.70" r="0.78" fill="#000"/>
<circle cx="226.00" cy="267.00" r="0.78" fill="#000"/>
<circle cx="228.50" cy="267.00" r="0.78" fill="#000"/>
<circle cx="230.90" cy="267.00" r="0.78" fill="#000"/>
<circle cx="233.40" cy="267.00" r="0.78" fill="#000"/>
<circle cx="228.50" cy="268.20" r="0.78" fill="#000"/>
<circle cx="233.40" cy="268.20" r="0.78" fill="#000"/>
<circle cx="230.90" cy="269.50" r="0.78" fill="#000"/>
<circle cx="233.40" cy="269.50" r="0.78" fill="#000"/>
<circle cx="221.10" cy="271.00" r="0.78" fill="#000"/>
<circle cx="223.60" cy="271.00" r="0.78" fill="#000"/>
<circle cx="226.00" cy="271.00" r="0.78" fill="#000"/>
<circle cx="235.80" cy="271.00" r="0.78" fill="#000"/>
<circle cx="238.20" cy="271.00" r="0.78" fill="#000"/>
<circle cx="223.55" cy="273.80" r="0.78" fill="#000"/>
<circle cx="226.00" cy="273.80" r="0.78" fill="#000"/>
<circle cx="228.45" cy="273.80" r="0.78" fill="#000"/>
<circle cx="230.90" cy="273.80" r="0.78" fill="#000"/>
<circle cx="233.35" cy="273.80" r="0.78" fill="#000"/>
<circle cx="235.80" cy="273.80" r="0.78" fill="#000"/>
<circle cx="238.25" cy="273.80" r="0.78" fill="#000"/>
<circle cx="226.00" cy="275.10" r="0.78" fill="#000"/>
<circle cx="228.45" cy="275.10" r="0.78" fill="#000"/>
<circle cx="230.90" cy="275.10" r="0.78" fill="#000"/>
<circle cx="235.80" cy="275.10" r="0.78" fill="#000"/>
<circle cx="228.50" cy="277.60" r="0.78" fill="#000"/>
<circle cx="230.90" cy="277.60" r="0.78" fill="#000"/>
<circle cx="233.40" cy="277.60" r="0.78" fill="#000"/>
<circle cx="228.50" cy="278.90" r="0.78" fill="#000"/>
<circle cx="230.90" cy="278.90" r="0.78" fill="#000"/>
<circle cx="233.40" cy="278.90" r="0.78" fill="#000"/>
<circle cx="230.90" cy="281.50" r="0.78" fill="#000"/>
<circle cx="228.50" cy="284.40" r="0.78" fill="#000"/>
<circle cx="230.90" cy="284.40" r="0.78" fill="#000"/>
<circle cx="230.90" cy="288.70" r="0.78" fill="#000"/>
<rect x="71.2" y="141.3" width="11.20" height="2.70" fill="#b4b4b4"/>
<rect x="72.00" y="142.00" width="1.2" height="1.2" fill="#fcfcfc"/>
<rect x="74.85" y="142.00" width="1.2" height="1.2" fill="#fcfcfc"/>
<rect x="77.70" y="142.00" width="1.2" height="1.2" fill="#fcfcfc"/>
<rect x="80.55" y="142.00" width="1.2" height="1.2" fill="#fcfcfc"/>
<rect x="70.6" y="144.6" width="23.60" height="20.40" fill="#9c9c9c"/>
<rect x="71.80" y="145.90" width="1.2" height="1.2" fill="#fcfcfc"/>
<rect x="74.65" y="145.90" width="1.2" height="1.2" fill="#fcfcfc"/>
<rect x="77.50" y="145.90" width="1.2" height="1.2" fill="#fcfcfc"/>
<rect x="80.35" y="145.90" width="1.2" height="1.2" fill="#fcfcfc"/>
<rect x="83.20" y="145.90" width="1.2" height="1.2" fill="#fcfcfc"/>
<rect x="86.05" y="145.90" width="1.2" height="1.2" fill="#fcfcfc"/>
<rect x="88.90" y="145.90" width="1.2" height="1.2" fill="#fcfcfc"/>
<rect x="91.75" y="145.90" width="1.2" height="1.2" fill="#fcfcfc"/>
<rect x="71.80" y="148.32" width="1.2" height="1.2" fill="#fcfcfc"/>
<rect x="74.65" y="148.32" width="1.2" height="1.2" fill="#fcfcfc"/>
<rect x="77.50" y="148.32" width="1.2" height="1.2" fill="#fcfcfc"/>
<rect x="80.35" y="148.32" width="1.2" height="1.2" fill="#fcfcfc"/>
<rect x="83.20" y="148.32" width="1.2" height="1.2" fill="#fcfcfc"/>
<rect x="86.05" y="148.32" width="1.2" height="1.2" fill="#fcfcfc"/>
<rect x="88.90" y="148.32" width="1.2" height="1.2" fill="#fcfcfc"/>
<rect x="91.75" y="148.32" width="1.2" height="1.2" fill="#fcfcfc"/>
<rect x="71.80" y="150.74" width="1.2" height="1.2" fill="#fcfcfc"/>
<rect x="74.65" y="150.74" width="1.2" height="1.2" fill="#fcfcfc"/>
<rect x="77.50" y="150.74" width="1.2" height="1.2" fill="#fcfcfc"/>
<rect x="80.35" y="150.74" width="1.2" height="1.2" fill="#fcfcfc"/>
<rect x="83.20" y="150.74" width="1.2" height="1.2" fill="#fcfcfc"/>
<rect x="86.05" y="150.74" width="1.2" height="1.2" fill="#fcfcfc"/>
<rect x="88.90" y="150.74" width="1.2" height="1.2" fill="#fcfcfc"/>
<rect x="91.75" y="150.74" width="1.2" height="1.2" fill="#fcfcfc"/>
<rect x="71.80" y="153.16" width="1.2" height="1.2" fill="#fcfcfc"/>
<rect x="74.65" y="153.16" width="1.2" height="1.2" fill="#fcfcfc"/>
<rect x="77.50" y="153.16" width="1.2" height="1.2" fill="#fcfcfc"/>
<rect x="80.35" y="153.16" width="1.2" height="1.2" fill="#fcfcfc"/>
<rect x="83.20" y="153.16" width="1.2" height="1.2" fill="#fcfcfc"/>
<rect x="86.05" y="153.16" width="1.2" height="1.2" fill="#fcfcfc"/>
<rect x="88.90" y="153.16" width="1.2" height="1.2" fill="#fcfcfc"/>
<rect x="91.75" y="153.16" width="1.2" height="1.2" fill="#fcfcfc"/>
<rect x="71.80" y="155.58" width="1.2" height="1.2" fill="#fcfcfc"/>
<rect x="74.65" y="155.58" width="1.2" height="1.2" fill="#fcfcfc"/>
<rect x="77.50" y="155.58" width="1.2" height="1.2" fill="#fcfcfc"/>
<rect x="80.35" y="155.58" width="1.2" height="1.2" fill="#fcfcfc"/>
<rect x="83.20" y="155.58" width="1.2" height="1.2" fill="#fcfcfc"/>
<rect x="86.05" y="155.58" width="1.2" height="1.2" fill="#fcfcfc"/>
<rect x="88.90" y="155.58" width="1.2" height="1.2" fill="#fcfcfc"/>
<rect x="91.75" y="155.58" width="1.2" height="1.2" fill="#fcfcfc"/>
<rect x="71.80" y="158.00" width="1.2" height="1.2" fill="#fcfcfc"/>
<rect x="74.65" y="158.00" width="1.2" height="1.2" fill="#fcfcfc"/>
<rect x="77.50" y="158.00" width="1.2" height="1.2" fill="#fcfcfc"/>
<rect x="80.35" y="158.00" width="1.2" height="1.2" fill="#fcfcfc"/>
<rect x="83.20" y="158.00" width="1.2" height="1.2" fill="#fcfcfc"/>
<rect x="86.05" y="158.00" width="1.2" height="1.2" fill="#fcfcfc"/>
<rect x="88.90" y="158.00" width="1.2" height="1.2" fill="#fcfcfc"/>
<rect x="91.75" y="158.00" width="1.2" height="1.2" fill="#fcfcfc"/>
<rect x="71.80" y="160.42" width="1.2" height="1.2" fill="#fcfcfc"/>
<rect x="74.65" y="160.42" width="1.2" height="1.2" fill="#fcfcfc"/>
<rect x="77.50" y="160.42" width="1.2" height="1.2" fill="#fcfcfc"/>
<rect x="80.35" y="160.42" width="1.2" height="1.2" fill="#fcfcfc"/>
<rect x="83.20" y="160.42" width="1.2" height="1.2" fill="#fcfcfc"/>
<rect x="86.05" y="160.42" width="1.2" height="1.2" fill="#fcfcfc"/>
<rect x="88.90" y="160.42" width="1.2" height="1.2" fill="#fcfcfc"/>
<rect x="91.75" y="160.42" width="1.2" height="1.2" fill="#fcfcfc"/>
<rect x="71.80" y="162.84" width="1.2" height="1.2" fill="#fcfcfc"/>
<rect x="74.65" y="162.84" width="1.2" height="1.2" fill="#fcfcfc"/>
<rect x="77.50" y="162.84" width="1.2" height="1.2" fill="#fcfcfc"/>
<rect x="80.35" y="162.84" width="1.2" height="1.2" fill="#fcfcfc"/>
<rect x="83.20" y="162.84" width="1.2" height="1.2" fill="#fcfcfc"/>
<rect x="86.05" y="162.84" width="1.2" height="1.2" fill="#fcfcfc"/>
<rect x="88.90" y="162.84" width="1.2" height="1.2" fill="#fcfcfc"/>
<rect x="91.75" y="162.84" width="1.2" height="1.2" fill="#fcfcfc"/>
<rect x="119.9" y="149.6" width="14.00" height="2.40" fill="#b4b4b4"/>
<rect x="120.80" y="150.30" width="1.2" height="1.2" fill="#fcfcfc"/>
<rect x="123.65" y="150.30" width="1.2" height="1.2" fill="#fcfcfc"/>
<rect x="126.50" y="150.30" width="1.2" height="1.2" fill="#fcfcfc"/>
<rect x="129.35" y="150.30" width="1.2" height="1.2" fill="#fcfcfc"/>
<rect x="132.20" y="150.30" width="1.2" height="1.2" fill="#fcfcfc"/>
<rect x="119.9" y="152.0" width="22.80" height="13.00" fill="#9c9c9c"/>
<rect x="120.80" y="153.00" width="1.2" height="1.2" fill="#fcfcfc"/>
<rect x="123.65" y="153.00" width="1.2" height="1.2" fill="#fcfcfc"/>
<rect x="126.50" y="153.00" width="1.2" height="1.2" fill="#fcfcfc"/>
<rect x="129.35" y="153.00" width="1.2" height="1.2" fill="#fcfcfc"/>
<rect x="132.20" y="153.00" width="1.2" height="1.2" fill="#fcfcfc"/>
<rect x="135.05" y="153.00" width="1.2" height="1.2" fill="#fcfcfc"/>
<rect x="137.90" y="153.00" width="1.2" height="1.2" fill="#fcfcfc"/>
<rect x="140.75" y="153.00" width="1.2" height="1.2" fill="#fcfcfc"/>
<rect x="120.80" y="155.42" width="1.2" height="1.2" fill="#fcfcfc"/>
<rect x="123.65" y="155.42" width="1.2" height="1.2" fill="#fcfcfc"/>
<rect x="126.50" y="155.42" width="1.2" height="1.2" fill="#fcfcfc"/>
<rect x="129.35" y="155.42" width="1.2" height="1.2" fill="#fcfcfc"/>
<rect x="132.20" y="155.42" width="1.2" height="1.2" fill="#fcfcfc"/>
<rect x="135.05" y="155.42" width="1.2" height="1.2" fill="#fcfcfc"/>
<rect x="137.90" y="155.42" width="1.2" height="1.2" fill="#fcfcfc"/>
<rect x="140.75" y="155.42" width="1.2" height="1.2" fill="#fcfcfc"/>
<rect x="120.80" y="157.84" width="1.2" height="1.2" fill="#fcfcfc"/>
<rect x="123.65" y="157.84" width="1.2" height="1.2" fill="#fcfcfc"/>
<rect x="126.50" y="157.84" width="1.2" height="1.2" fill="#fcfcfc"/>
<rect x="129.35" y="157.84" width="1.2" height="1.2" fill="#fcfcfc"/>
<rect x="132.20" y="157.84" width="1.2" height="1.2" fill="#fcfcfc"/>
<rect x="135.05" y="157.84" width="1.2" height="1.2" fill="#fcfcfc"/>
<rect x="137.90" y="157.84" width="1.2" height="1.2" fill="#fcfcfc"/>
<rect x="140.75" y="157.84" width="1.2" height="1.2" fill="#fcfcfc"/>
<rect x="120.80" y="160.26" width="1.2" height="1.2" fill="#fcfcfc"/>
<rect x="123.65" y="160.26" width="1.2" height="1.2" fill="#fcfcfc"/>
<rect x="126.50" y="160.26" width="1.2" height="1.2" fill="#fcfcfc"/>
<rect x="129.35" y="160.26" width="1.2" height="1.2" fill="#fcfcfc"/>
<rect x="132.20" y="160.26" width="1.2" height="1.2" fill="#fcfcfc"/>
<rect x="135.05" y="160.26" width="1.2" height="1.2" fill="#fcfcfc"/>
<rect x="137.90" y="160.26" width="1.2" height="1.2" fill="#fcfcfc"/>
<rect x="140.75" y="160.26" width="1.2" height="1.2" fill="#fcfcfc"/>
<rect x="120.80" y="162.68" width="1.2" height="1.2" fill="#fcfcfc"/>
<rect x="123.65" y="162.68" width="1.2" height="1.2" fill="#fcfcfc"/>
<rect x="126.50" y="162.68" width="1.2" height="1.2" fill="#fcfcfc"/>
<rect x="129.35" y="162.68" width="1.2" height="1.2" fill="#fcfcfc"/>
<rect x="132.20" y="162.68" width="1.2" height="1.2" fill="#fcfcfc"/>
<rect x="135.05" y="162.68" width="1.2" height="1.2" fill="#fcfcfc"/>
<rect x="137.90" y="162.68" width="1.2" height="1.2" fill="#fcfcfc"/>
<rect x="140.75" y="162.68" width="1.2" height="1.2" fill="#fcfcfc"/>
<rect x="169.9" y="157.2" width="5.50" height="2.40" fill="#b4b4b4"/>
<rect x="170.70" y="157.70" width="1.2" height="1.2" fill="#fcfcfc"/>
<rect x="173.55" y="157.70" width="1.2" height="1.2" fill="#fcfcfc"/>
<rect x="169.9" y="159.6" width="22.50" height="5.40" fill="#9c9c9c"/>
<rect x="170.70" y="160.20" width="1.2" height="1.2" fill="#fcfcfc"/>
<rect x="173.55" y="160.20" width="1.2" height="1.2" fill="#fcfcfc"/>
<rect x="176.40" y="160.20" width="1.2" height="1.2" fill="#fcfcfc"/>
<rect x="179.25" y="160.20" width="1.2" height="1.2" fill="#fcfcfc"/>
<rect x="182.10" y="160.20" width="1.2" height="1.2" fill="#fcfcfc"/>
<rect x="184.95" y="160.20" width="1.2" height="1.2" fill="#fcfcfc"/>
<rect x="187.80" y="160.20" width="1.2" height="1.2" fill="#fcfcfc"/>
<rect x="190.65" y="160.20" width="1.2" height="1.2" fill="#fcfcfc"/>
<rect x="170.70" y="162.62" width="1.2" height="1.2" fill="#fcfcfc"/>
<rect x="173.55" y="162.62" width="1.2" height="1.2" fill="#fcfcfc"/>
<rect x="176.40" y="162.62" width="1.2" height="1.2" fill="#fcfcfc"/>
<rect x="179.25" y="162.62" width="1.2" height="1.2" fill="#fcfcfc"/>
<rect x="182.10" y="162.62" width="1.2" height="1.2" fill="#fcfcfc"/>
<rect x="184.95" y="162.62" width="1.2" height="1.2" fill="#fcfcfc"/>
<rect x="187.80" y="162.62" width="1.2" height="1.2" fill="#fcfcfc"/>
<rect x="190.65" y="162.62" width="1.2" height="1.2" fill="#fcfcfc"/>
<rect x="217.9" y="157.4" width="14.50" height="2.30" fill="#b4b4b4"/>
<rect x="218.70" y="157.80" width="1.2" height="1.2" fill="#fcfcfc"/>
<rect x="221.55" y="157.80" width="1.2" height="1.2" fill="#fcfcfc"/>
<rect x="224.40" y="157.80" width="1.2" height="1.2" fill="#fcfcfc"/>
<rect x="227.25" y="157.80" width="1.2" height="1.2" fill="#fcfcfc"/>
<rect x="230.10" y="157.80" width="1.2" height="1.2" fill="#fcfcfc"/>
<rect x="217.9" y="159.7" width="22.80" height="5.30" fill="#9c9c9c"/>
<rect x="218.70" y="160.30" width="1.2" height="1.2" fill="#fcfcfc"/>
<rect x="221.55" y="160.30" width="1.2" height="1.2" fill="#fcfcfc"/>
<rect x="224.40" y="160.30" width="1.2" height="1.2" fill="#fcfcfc"/>
<rect x="227.25" y="160.30" width="1.2" height="1.2" fill="#fcfcfc"/>
<rect x="230.10" y="160.30" width="1.2" height="1.2" fill="#fcfcfc"/>
<rect x="232.95" y="160.30" width="1.2" height="1.2" fill="#fcfcfc"/>
<rect x="235.80" y="160.30" width="1.2" height="1.2" fill="#fcfcfc"/>
<rect x="238.65" y="160.30" width="1.2" height="1.2" fill="#fcfcfc"/>
<rect x="218.70" y="162.72" width="1.2" height="1.2" fill="#fcfcfc"/>
<rect x="221.55" y="162.72" width="1.2" height="1.2" fill="#fcfcfc"/>
<rect x="224.40" y="162.72" width="1.2" height="1.2" fill="#fcfcfc"/>
<rect x="227.25" y="162.72" width="1.2" height="1.2" fill="#fcfcfc"/>
<rect x="230.10" y="162.72" width="1.2" height="1.2" fill="#fcfcfc"/>
<rect x="232.95" y="162.72" width="1.2" height="1.2" fill="#fcfcfc"/>
<rect x="235.80" y="162.72" width="1.2" height="1.2" fill="#fcfcfc"/>
<rect x="238.65" y="162.72" width="1.2" height="1.2" fill="#fcfcfc"/>
<line x1="70.00" y1="144.60" x2="95.50" y2="144.60" stroke="#2e2e2e" stroke-width="1.15" />
<line x1="114.80" y1="105.80" x2="148.40" y2="105.80" stroke="#2e2e2e" stroke-width="1.15" />
<line x1="164.30" y1="98.60" x2="197.90" y2="98.60" stroke="#2e2e2e" stroke-width="1.15" />
<line x1="213.90" y1="117.30" x2="247.40" y2="117.30" stroke="#2e2e2e" stroke-width="1.15" />
<line x1="66.10" y1="273.90" x2="99.30" y2="273.90" stroke="#2e2e2e" stroke-width="1.15" />
<line x1="115.40" y1="272.40" x2="149.00" y2="272.40" stroke="#2e2e2e" stroke-width="1.15" />
<line x1="165.10" y1="272.80" x2="198.90" y2="272.80" stroke="#2e2e2e" stroke-width="1.15" />
<line x1="214.70" y1="272.60" x2="248.00" y2="272.60" stroke="#2e2e2e" stroke-width="1.15" />
<circle cx="78.10" cy="349.3" r="1.2" fill="#fff" stroke="#333" stroke-width="0.7"/>
<circle cx="80.95" cy="349.3" r="1.2" fill="#fff" stroke="#333" stroke-width="0.7"/>
<circle cx="83.80" cy="349.3" r="1.2" fill="#fff" stroke="#333" stroke-width="0.7"/>
<circle cx="86.65" cy="349.3" r="1.2" fill="#fff" stroke="#333" stroke-width="0.7"/>
<circle cx="89.50" cy="349.3" r="1.2" fill="#fff" stroke="#333" stroke-width="0.7"/>
<circle cx="123.60" cy="349.3" r="1.2" fill="#fff" stroke="#333" stroke-width="0.7"/>
<circle cx="126.15" cy="349.3" r="1.2" fill="#fff" stroke="#333" stroke-width="0.7"/>
<circle cx="128.70" cy="349.3" r="1.2" fill="#fff" stroke="#333" stroke-width="0.7"/>
<circle cx="131.25" cy="349.3" r="1.2" fill="#fff" stroke="#333" stroke-width="0.7"/>
<circle cx="133.80" cy="349.3" r="1.2" fill="#fff" stroke="#333" stroke-width="0.7"/>
<circle cx="136.35" cy="349.3" r="1.2" fill="#fff" stroke="#333" stroke-width="0.7"/>
<circle cx="138.90" cy="349.3" r="1.2" fill="#fff" stroke="#333" stroke-width="0.7"/>
<circle cx="141.45" cy="349.3" r="1.2" fill="#fff" stroke="#333" stroke-width="0.7"/>
<circle cx="171.50" cy="349.3" r="1.2" fill="#fff" stroke="#333" stroke-width="0.7"/>
<circle cx="174.00" cy="349.3" r="1.2" fill="#fff" stroke="#333" stroke-width="0.7"/>
<circle cx="176.50" cy="349.3" r="1.2" fill="#fff" stroke="#333" stroke-width="0.7"/>
<circle cx="179.00" cy="349.3" r="1.2" fill="#fff" stroke="#333" stroke-width="0.7"/>
<circle cx="181.50" cy="349.3" r="1.2" fill="#fff" stroke="#333" stroke-width="0.7"/>
<circle cx="184.00" cy="349.3" r="1.2" fill="#fff" stroke="#333" stroke-width="0.7"/>
<circle cx="186.50" cy="349.3" r="1.2" fill="#fff" stroke="#333" stroke-width="0.7"/>
<circle cx="189.00" cy="349.3" r="1.2" fill="#fff" stroke="#333" stroke-width="0.7"/>
<circle cx="191.50" cy="349.3" r="1.2" fill="#fff" stroke="#333" stroke-width="0.7"/>
<circle cx="231.00" cy="348.9" r="1.2" fill="#fff" stroke="#333" stroke-width="0.7"/>
<text x="272.90" y="30.00" font-size="17" text-anchor="start" font-weight="bold" font-style="normal" fill="#000" >B</text>
<line x1="313.20" y1="21.20" x2="313.20" y2="142.00" stroke="#2a2a2a" stroke-width="1.5" />
<line x1="313.20" y1="142.00" x2="494.00" y2="21.20" stroke="#111" stroke-width="1.05" stroke-dasharray="2.7,1.2"/>
<path d="M313.20,142.00 L313.20,133.00 L316.30,133.00 L316.30,127.40 L333.80,127.40 L334.00,124.60 L334.50,119.70 L338.90,119.70 L339.16,119.70 L339.16,117.60 L339.77,117.60 L339.77,115.50 L340.66,115.50 L340.66,113.40 L341.20,113.40 L341.60,110.70 L343.06,110.70 L343.06,108.67 L345.01,108.67 L345.01,106.63 L345.80,106.63 L345.80,104.60 L346.10,104.60 L354.10,104.60 L354.60,102.70 L355.40,102.70 L355.40,100.32 L357.22,100.32 L357.22,97.94 L359.23,97.94 L359.23,95.55 L361.33,95.55 L361.33,93.17 L363.67,93.17 L363.67,90.79 L367.71,90.79 L367.71,88.41 L370.74,88.41 L370.74,86.03 L371.69,86.03 L371.69,83.65 L374.09,83.65 L374.09,81.26 L376.67,81.26 L376.67,78.88 L378.34,78.88 L378.34,76.50 L379.10,76.50 L392.50,76.50 L494.00,21.20" fill="none" stroke="#262626" stroke-width="1.4" stroke-linejoin="miter" />
<path d="M313.20,142.00 L313.20,132.00 L316.30,132.00 L316.30,123.60 L319.02,123.60 L319.02,121.19 L324.38,121.19 L324.38,118.78 L328.08,118.78 L328.08,116.36 L330.26,116.36 L330.26,113.95 L332.49,113.95 L332.49,111.54 L333.94,111.54 L333.94,109.13 L334.58,109.13 L334.58,106.72 L336.27,106.72 L336.27,104.30 L338.92,104.30 L338.92,101.89 L341.86,101.89 L341.86,99.48 L344.47,99.48 L344.47,97.07 L345.79,97.07 L345.79,94.65 L346.67,94.65 L346.67,92.24 L347.70,92.24 L347.70,89.83 L348.64,89.83 L348.64,87.42 L351.54,87.42 L351.54,85.01 L354.96,85.01 L354.96,82.59 L358.23,82.59 L358.23,80.18 L361.50,80.18 L361.50,77.77 L363.50,77.77 L363.50,75.36 L365.04,75.36 L365.04,72.95 L366.52,72.95 L366.52,70.53 L368.27,70.53 L368.27,68.12 L369.68,68.12 L369.68,65.71 L371.03,65.71 L371.03,63.30 L372.40,63.30 L372.40,60.88 L373.69,60.88 L373.69,58.47 L375.38,58.47 L375.38,56.06 L377.75,56.06 L377.75,53.65 L380.62,53.65 L380.62,51.24 L384.26,51.24 L384.26,48.82 L388.36,48.82 L388.36,46.41 L391.94,46.41 L391.94,44.00 L393.50,44.00 L494.00,21.20" fill="none" stroke="#8a8a8a" stroke-width="1.3" stroke-linejoin="miter" />
<path d="M313.20,142.00 L313.20,115.00 L313.72,115.00 L313.72,112.59 L314.51,112.59 L314.51,110.18 L314.97,110.18 L314.97,107.77 L315.36,107.77 L315.36,105.36 L316.18,105.36 L316.18,102.95 L317.41,102.95 L317.41,100.54 L319.31,100.54 L319.31,98.13 L321.75,98.13 L321.75,95.72 L323.95,95.72 L323.95,93.32 L326.24,93.32 L326.24,90.91 L328.44,90.91 L328.44,88.50 L330.32,88.50 L330.32,86.09 L332.12,86.09 L332.12,83.68 L334.37,83.68 L334.37,81.27 L338.08,81.27 L338.08,78.86 L341.47,78.86 L341.47,76.45 L343.09,76.45 L343.09,74.04 L343.99,74.04 L343.99,71.63 L344.77,71.63 L344.77,69.22 L345.84,69.22 L345.84,66.81 L347.49,66.81 L347.49,64.40 L349.98,64.40 L349.98,61.99 L353.73,61.99 L353.73,59.58 L359.94,59.58 L359.94,57.17 L365.62,57.17 L365.62,54.77 L368.05,54.77 L368.05,52.36 L369.42,52.36 L369.42,49.95 L371.01,49.95 L371.01,47.54 L373.68,47.54 L373.68,45.13 L378.35,45.13 L378.35,42.72 L384.38,42.72 L384.38,40.31 L390.81,40.31 L390.81,37.90 L394.10,37.90 L494.00,21.20" fill="none" stroke="#dadada" stroke-width="1.5" stroke-linejoin="miter" />
<line x1="313.20" y1="21.20" x2="494.50" y2="21.20" stroke="#555" stroke-width="1.1" />
<line x1="494.00" y1="21.20" x2="494.00" y2="142.00" stroke="#555" stroke-width="1.1" />
<line x1="311.40" y1="142.00" x2="494.60" y2="142.00" stroke="#111" stroke-width="1.5" />
<line x1="310.80" y1="142.00" x2="313.20" y2="142.00" stroke="#333" stroke-width="1.1" />
<text x="309.9" y="145.00" font-size="9.6" text-anchor="end" fill="#151515">0</text>
<line x1="313.20" y1="142.00" x2="313.20" y2="144.60" stroke="#222" stroke-width="1.1" />
<text x="312.90" y="152.90" font-size="9.6" text-anchor="middle" fill="#151515">0</text>
<line x1="310.80" y1="117.84" x2="313.20" y2="117.84" stroke="#333" stroke-width="1.1" />
<text x="309.9" y="120.84" font-size="9.6" text-anchor="end" fill="#151515">20</text>
<line x1="349.36" y1="142.00" x2="349.36" y2="144.60" stroke="#222" stroke-width="1.1" />
<text x="349.06" y="152.90" font-size="9.6" text-anchor="middle" fill="#151515">20</text>
<line x1="310.80" y1="93.68" x2="313.20" y2="93.68" stroke="#333" stroke-width="1.1" />
<text x="309.9" y="96.68" font-size="9.6" text-anchor="end" fill="#151515">40</text>
<line x1="385.52" y1="142.00" x2="385.52" y2="144.60" stroke="#222" stroke-width="1.1" />
<text x="385.22" y="152.90" font-size="9.6" text-anchor="middle" fill="#151515">40</text>
<line x1="310.80" y1="69.52" x2="313.20" y2="69.52" stroke="#333" stroke-width="1.1" />
<text x="309.9" y="72.52" font-size="9.6" text-anchor="end" fill="#151515">60</text>
<line x1="421.68" y1="142.00" x2="421.68" y2="144.60" stroke="#222" stroke-width="1.1" />
<text x="421.38" y="152.90" font-size="9.6" text-anchor="middle" fill="#151515">60</text>
<line x1="310.80" y1="45.36" x2="313.20" y2="45.36" stroke="#333" stroke-width="1.1" />
<text x="309.9" y="48.36" font-size="9.6" text-anchor="end" fill="#151515">80</text>
<line x1="457.84" y1="142.00" x2="457.84" y2="144.60" stroke="#222" stroke-width="1.1" />
<text x="457.54" y="152.90" font-size="9.6" text-anchor="middle" fill="#151515">80</text>
<line x1="310.80" y1="21.20" x2="313.20" y2="21.20" stroke="#333" stroke-width="1.1" />
<text x="309.9" y="24.20" font-size="9.6" text-anchor="end" fill="#151515">100</text>
<line x1="494.00" y1="142.00" x2="494.00" y2="144.60" stroke="#222" stroke-width="1.1" />
<text x="493.70" y="152.90" font-size="9.6" text-anchor="middle" fill="#151515">100</text>
<text x="407.2" y="171.70" font-size="9.8" text-anchor="middle" fill="#151515">100% - Specificity (%)</text>
<text transform="translate(284.6,106.80) rotate(-90)" font-size="9.8" fill="#151515">Sensitivity (%)</text>
<line x1="387.20" y1="116.50" x2="400.50" y2="116.50" stroke="#dadada" stroke-width="1.3" />
<text x="406.6" y="119.20" font-size="7.4" fill="#1a1a1a">CRC</text>
<text x="449.8" y="119.20" font-size="7.4" fill="#1a1a1a">AUC = 0.79</text>
<line x1="387.20" y1="125.10" x2="400.50" y2="125.10" stroke="#8c8c8c" stroke-width="1.3" />
<text x="406.6" y="127.80" font-size="7.4" fill="#1a1a1a">Adenoma</text>
<text x="449.8" y="127.80" font-size="7.4" fill="#1a1a1a">AUC = 0.71</text>
<line x1="387.20" y1="133.70" x2="400.50" y2="133.70" stroke="#262626" stroke-width="1.6" />
<text x="406.6" y="136.40" font-size="7.4" fill="#1a1a1a">IBD</text>
<text x="449.8" y="136.40" font-size="7.4" fill="#1a1a1a">AUC = 0.57</text>
<text x="272.70" y="214.80" font-size="17" text-anchor="start" font-weight="bold" font-style="normal" fill="#000" >D</text>
<line x1="313.20" y1="213.90" x2="313.20" y2="334.70" stroke="#2a2a2a" stroke-width="1.5" />
<line x1="313.20" y1="334.70" x2="494.00" y2="213.90" stroke="#111" stroke-width="1.05" stroke-dasharray="2.7,1.2"/>
<path d="M313.20,334.70 L314.23,334.70 L314.23,332.35 L317.33,332.35 L317.33,330.00 L319.40,330.00 L319.40,320.30 L332.60,320.30 L332.60,315.00 L338.00,314.50 L338.81,314.50 L338.81,312.07 L340.38,312.07 L340.38,309.65 L341.59,309.65 L341.59,307.22 L342.45,307.22 L342.45,304.79 L343.23,304.79 L343.23,302.37 L344.85,302.37 L344.85,299.94 L349.04,299.94 L349.04,297.51 L354.88,297.51 L354.88,295.09 L360.66,295.09 L360.66,292.66 L365.38,292.66 L365.38,290.24 L368.18,290.24 L368.18,287.81 L369.70,287.81 L369.70,285.38 L372.00,285.38 L372.00,282.96 L378.60,282.96 L378.60,280.53 L386.30,280.53 L386.30,278.10 L390.27,278.10 L390.27,275.68 L392.04,275.68 L392.04,273.25 L395.52,273.25 L395.52,270.82 L400.46,270.82 L400.46,268.40 L404.32,268.40 L404.32,265.97 L408.98,265.97 L408.98,263.54 L416.21,263.54 L416.21,261.12 L423.67,261.12 L423.67,258.69 L429.65,258.69 L429.65,256.26 L434.56,256.26 L434.56,253.84 L440.77,253.84 L440.77,251.41 L447.21,251.41 L447.21,248.99 L452.08,248.99 L452.08,246.56 L456.65,246.56 L456.65,244.13 L459.49,244.13 L459.49,241.71 L463.31,241.71 L463.31,239.28 L468.81,239.28 L468.81,236.85 L472.91,236.85 L472.91,234.43 L476.93,234.43 L476.93,232.00 L479.40,232.00 L484.10,232.00 L485.30,232.00 L485.30,230.40 L486.50,230.40 L486.50,224.90 L487.25,224.90 L487.25,222.70 L488.75,222.70 L488.75,220.50 L490.25,220.50 L490.25,218.30 L491.75,218.30 L491.75,216.10 L493.25,216.10 L493.25,213.90 L494.00,213.90" fill="none" stroke="#d9d9d9" stroke-width="1.2" stroke-linejoin="miter" />
<path d="M313.20,334.70 L314.28,334.70 L314.28,331.85 L317.38,331.85 L317.38,329.00 L319.40,329.00 L319.40,317.60 L332.00,317.60 L332.00,314.00 L338.00,313.50 L338.78,313.50 L338.78,311.15 L340.32,311.15 L340.32,308.80 L341.52,308.80 L341.52,306.45 L342.36,306.45 L342.36,304.10 L343.12,304.10 L343.12,301.75 L344.31,301.75 L344.31,299.40 L347.89,299.40 L347.89,297.05 L353.48,297.05 L353.48,294.70 L359.22,294.70 L359.22,292.35 L364.08,292.35 L364.08,290.00 L367.22,290.00 L367.22,287.65 L369.09,287.65 L369.09,285.30 L370.15,285.30 L370.15,282.95 L375.39,282.95 L375.39,280.60 L383.58,280.60 L383.58,278.25 L388.80,278.25 L388.80,275.90 L391.30,275.90 L391.30,273.55 L392.50,273.55 L392.50,271.20 L393.10,271.20 L397.00,270.60 L399.23,270.60 L399.23,268.27 L402.97,268.27 L402.97,265.94 L406.99,265.94 L406.99,263.61 L413.54,263.61 L413.54,261.28 L420.76,261.28 L420.76,258.95 L427.11,258.95 L427.11,256.62 L432.44,256.62 L432.44,254.29 L438.33,254.29 L438.33,251.96 L444.44,251.96 L444.44,249.64 L448.67,249.64 L448.67,247.31 L453.99,247.31 L453.99,244.98 L458.23,244.98 L458.23,242.65 L459.84,242.65 L459.84,240.32 L463.93,240.32 L463.93,237.99 L469.37,237.99 L469.37,235.66 L473.10,235.66 L473.10,233.33 L477.03,233.33 L477.03,231.00 L479.40,231.00 L484.10,231.00 L485.30,231.00 L485.30,229.40 L486.50,229.40 L486.50,223.90 L487.44,223.90 L487.44,221.40 L489.31,221.40 L489.31,218.90 L491.19,218.90 L491.19,216.40 L493.06,216.40 L493.06,213.90 L494.00,213.90" fill="none" stroke="#8e8e8e" stroke-width="1.15" stroke-linejoin="miter" />
<path d="M313.20,334.70 L314.07,334.70 L314.07,332.10 L317.22,332.10 L317.22,329.50 L319.50,329.50 L319.50,318.00 L320.29,318.00 L320.29,315.30 L322.14,315.30 L322.14,312.60 L323.20,312.60 L339.80,312.60 L340.21,312.60 L340.21,310.12 L341.10,310.12 L341.10,307.65 L342.02,307.65 L342.02,305.17 L342.85,305.17 L342.85,302.69 L343.78,302.69 L343.78,300.22 L344.96,300.22 L344.96,297.74 L347.16,297.74 L347.16,295.26 L353.27,295.26 L353.27,292.78 L361.65,292.78 L361.65,290.31 L366.37,290.31 L366.37,287.83 L368.42,287.83 L368.42,285.35 L370.19,285.35 L370.19,282.88 L371.46,282.88 L371.46,280.40 L372.10,280.40 L378.60,279.80 L380.57,279.80 L380.57,277.50 L385.14,277.50 L385.14,275.20 L389.37,275.20 L389.37,272.90 L391.70,272.90 L391.70,270.60 L392.40,270.60 L392.80,263.80 L394.50,263.80 L394.50,260.60 L396.20,260.60 L402.50,260.20 L402.97,260.20 L402.97,257.69 L404.28,257.69 L404.28,255.17 L405.92,255.17 L405.92,252.66 L408.08,252.66 L408.08,250.14 L410.81,250.14 L410.81,247.63 L413.94,247.63 L413.94,245.11 L416.99,245.11 L416.99,242.60 L418.30,242.60 L432.50,242.60 L432.89,242.60 L432.89,240.27 L437.33,240.27 L437.33,237.93 L442.39,237.93 L442.39,235.60 L444.14,235.60 L444.14,233.27 L445.34,233.27 L445.34,230.93 L446.85,230.93 L446.85,228.60 L447.90,228.60 L457.30,228.60 L457.90,228.60 L457.90,226.28 L462.40,226.28 L462.40,223.96 L466.76,223.96 L466.76,221.64 L469.57,221.64 L469.57,219.32 L472.51,219.32 L472.51,217.00 L473.10,217.00 L485.90,217.00 L485.90,213.90 L494.00,213.90" fill="none" stroke="#262626" stroke-width="1.4" stroke-linejoin="miter" />
<line x1="313.20" y1="213.90" x2="494.50" y2="213.90" stroke="#555" stroke-width="1.1" />
<line x1="494.00" y1="213.90" x2="494.00" y2="334.70" stroke="#555" stroke-width="1.1" />
<line x1="311.40" y1="334.70" x2="494.60" y2="334.70" stroke="#111" stroke-width="1.5" />
<line x1="310.80" y1="334.70" x2="313.20" y2="334.70" stroke="#333" stroke-width="1.1" />
<text x="309.9" y="337.70" font-size="9.6" text-anchor="end" fill="#151515">0</text>
<line x1="313.20" y1="334.70" x2="313.20" y2="337.30" stroke="#222" stroke-width="1.1" />
<text x="312.90" y="346.80" font-size="9.6" text-anchor="middle" fill="#151515">0</text>
<line x1="310.80" y1="310.54" x2="313.20" y2="310.54" stroke="#333" stroke-width="1.1" />
<text x="309.9" y="313.54" font-size="9.6" text-anchor="end" fill="#151515">20</text>
<line x1="349.36" y1="334.70" x2="349.36" y2="337.30" stroke="#222" stroke-width="1.1" />
<text x="349.06" y="346.80" font-size="9.6" text-anchor="middle" fill="#151515">20</text>
<line x1="310.80" y1="286.38" x2="313.20" y2="286.38" stroke="#333" stroke-width="1.1" />
<text x="309.9" y="289.38" font-size="9.6" text-anchor="end" fill="#151515">40</text>
<line x1="385.52" y1="334.70" x2="385.52" y2="337.30" stroke="#222" stroke-width="1.1" />
<text x="385.22" y="346.80" font-size="9.6" text-anchor="middle" fill="#151515">40</text>
<line x1="310.80" y1="262.22" x2="313.20" y2="262.22" stroke="#333" stroke-width="1.1" />
<text x="309.9" y="265.22" font-size="9.6" text-anchor="end" fill="#151515">60</text>
<line x1="421.68" y1="334.70" x2="421.68" y2="337.30" stroke="#222" stroke-width="1.1" />
<text x="421.38" y="346.80" font-size="9.6" text-anchor="middle" fill="#151515">60</text>
<line x1="310.80" y1="238.06" x2="313.20" y2="238.06" stroke="#333" stroke-width="1.1" />
<text x="309.9" y="241.06" font-size="9.6" text-anchor="end" fill="#151515">80</text>
<line x1="457.84" y1="334.70" x2="457.84" y2="337.30" stroke="#222" stroke-width="1.1" />
<text x="457.54" y="346.80" font-size="9.6" text-anchor="middle" fill="#151515">80</text>
<line x1="310.80" y1="213.90" x2="313.20" y2="213.90" stroke="#333" stroke-width="1.1" />
<text x="309.9" y="216.90" font-size="9.6" text-anchor="end" fill="#151515">100</text>
<line x1="494.00" y1="334.70" x2="494.00" y2="337.30" stroke="#222" stroke-width="1.1" />
<text x="493.70" y="346.80" font-size="9.6" text-anchor="middle" fill="#151515">100</text>
<text x="407.2" y="360.50" font-size="9.8" text-anchor="middle" fill="#151515">100% - Specificity (%)</text>
<text transform="translate(284.6,308.00) rotate(-90)" font-size="9.8" fill="#151515">Sensitivity (%)</text>
<line x1="387.20" y1="309.50" x2="400.50" y2="309.50" stroke="#dadada" stroke-width="1.3" />
<text x="406.6" y="312.20" font-size="7.4" fill="#1a1a1a">CRC</text>
<text x="449.8" y="312.20" font-size="7.4" fill="#1a1a1a">AUC = 0.53</text>
<line x1="387.20" y1="318.10" x2="400.50" y2="318.10" stroke="#8c8c8c" stroke-width="1.3" />
<text x="406.6" y="320.80" font-size="7.4" fill="#1a1a1a">Adenoma</text>
<text x="449.8" y="320.80" font-size="7.4" fill="#1a1a1a">AUC = 0.54</text>
<line x1="387.20" y1="326.70" x2="400.50" y2="326.70" stroke="#262626" stroke-width="1.6" />
<text x="406.6" y="329.40" font-size="7.4" fill="#1a1a1a">IBD</text>
<text x="449.8" y="329.40" font-size="7.4" fill="#1a1a1a">AUC = 0.59</text>
<rect x="0" y="0" width="1.4" height="381" fill="#505050"/>
<rect x="0" y="0" width="520" height="1.25" fill="#555"/>
<rect x="518.5" y="0" width="1.5" height="381" fill="#505050"/>
<rect x="0" y="379.3" width="520" height="1.7" fill="#7a7a7a"/>
</svg>
</body></html>
